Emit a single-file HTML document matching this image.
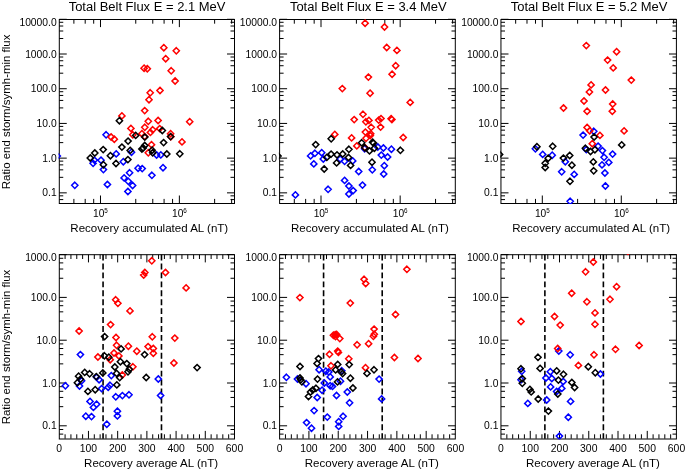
<!DOCTYPE html>
<html><head><meta charset="utf-8"><style>
html,body{margin:0;padding:0;background:#fff;}
body{width:685px;height:471px;overflow:hidden;}
svg{display:block;will-change:transform;}
</style></head><body>
<svg width="685" height="471" viewBox="0 0 685 471">
<rect width="685" height="471" fill="#fff"/>
<g font-family='"Liberation Sans", sans-serif' fill="#000">
<g stroke="#000">
<line x1="59.25" y1="192.85" x2="66.75" y2="192.85" stroke-width="1.0" />
<line x1="234.50" y1="192.85" x2="227.00" y2="192.85" stroke-width="1.0" />
<line x1="59.25" y1="158.14" x2="66.75" y2="158.14" stroke-width="1.0" />
<line x1="234.50" y1="158.14" x2="227.00" y2="158.14" stroke-width="1.0" />
<line x1="59.25" y1="123.43" x2="66.75" y2="123.43" stroke-width="1.0" />
<line x1="234.50" y1="123.43" x2="227.00" y2="123.43" stroke-width="1.0" />
<line x1="59.25" y1="88.72" x2="66.75" y2="88.72" stroke-width="1.0" />
<line x1="234.50" y1="88.72" x2="227.00" y2="88.72" stroke-width="1.0" />
<line x1="59.25" y1="54.01" x2="66.75" y2="54.01" stroke-width="1.0" />
<line x1="234.50" y1="54.01" x2="227.00" y2="54.01" stroke-width="1.0" />
<line x1="59.25" y1="19.30" x2="66.75" y2="19.30" stroke-width="1.0" />
<line x1="234.50" y1="19.30" x2="227.00" y2="19.30" stroke-width="1.0" />
<line x1="59.25" y1="199.58" x2="63.25" y2="199.58" stroke-width="1.0" />
<line x1="234.50" y1="199.58" x2="230.50" y2="199.58" stroke-width="1.0" />
<line x1="59.25" y1="195.84" x2="63.25" y2="195.84" stroke-width="1.0" />
<line x1="234.50" y1="195.84" x2="230.50" y2="195.84" stroke-width="1.0" />
<line x1="59.25" y1="177.33" x2="63.25" y2="177.33" stroke-width="1.0" />
<line x1="234.50" y1="177.33" x2="230.50" y2="177.33" stroke-width="1.0" />
<line x1="59.25" y1="169.85" x2="63.25" y2="169.85" stroke-width="1.0" />
<line x1="234.50" y1="169.85" x2="230.50" y2="169.85" stroke-width="1.0" />
<line x1="59.25" y1="164.87" x2="63.25" y2="164.87" stroke-width="1.0" />
<line x1="234.50" y1="164.87" x2="230.50" y2="164.87" stroke-width="1.0" />
<line x1="59.25" y1="161.13" x2="63.25" y2="161.13" stroke-width="1.0" />
<line x1="234.50" y1="161.13" x2="230.50" y2="161.13" stroke-width="1.0" />
<line x1="59.25" y1="142.62" x2="63.25" y2="142.62" stroke-width="1.0" />
<line x1="234.50" y1="142.62" x2="230.50" y2="142.62" stroke-width="1.0" />
<line x1="59.25" y1="135.14" x2="63.25" y2="135.14" stroke-width="1.0" />
<line x1="234.50" y1="135.14" x2="230.50" y2="135.14" stroke-width="1.0" />
<line x1="59.25" y1="130.16" x2="63.25" y2="130.16" stroke-width="1.0" />
<line x1="234.50" y1="130.16" x2="230.50" y2="130.16" stroke-width="1.0" />
<line x1="59.25" y1="126.42" x2="63.25" y2="126.42" stroke-width="1.0" />
<line x1="234.50" y1="126.42" x2="230.50" y2="126.42" stroke-width="1.0" />
<line x1="59.25" y1="107.91" x2="63.25" y2="107.91" stroke-width="1.0" />
<line x1="234.50" y1="107.91" x2="230.50" y2="107.91" stroke-width="1.0" />
<line x1="59.25" y1="100.43" x2="63.25" y2="100.43" stroke-width="1.0" />
<line x1="234.50" y1="100.43" x2="230.50" y2="100.43" stroke-width="1.0" />
<line x1="59.25" y1="95.45" x2="63.25" y2="95.45" stroke-width="1.0" />
<line x1="234.50" y1="95.45" x2="230.50" y2="95.45" stroke-width="1.0" />
<line x1="59.25" y1="91.71" x2="63.25" y2="91.71" stroke-width="1.0" />
<line x1="234.50" y1="91.71" x2="230.50" y2="91.71" stroke-width="1.0" />
<line x1="59.25" y1="73.20" x2="63.25" y2="73.20" stroke-width="1.0" />
<line x1="234.50" y1="73.20" x2="230.50" y2="73.20" stroke-width="1.0" />
<line x1="59.25" y1="65.72" x2="63.25" y2="65.72" stroke-width="1.0" />
<line x1="234.50" y1="65.72" x2="230.50" y2="65.72" stroke-width="1.0" />
<line x1="59.25" y1="60.74" x2="63.25" y2="60.74" stroke-width="1.0" />
<line x1="234.50" y1="60.74" x2="230.50" y2="60.74" stroke-width="1.0" />
<line x1="59.25" y1="57.00" x2="63.25" y2="57.00" stroke-width="1.0" />
<line x1="234.50" y1="57.00" x2="230.50" y2="57.00" stroke-width="1.0" />
<line x1="59.25" y1="38.49" x2="63.25" y2="38.49" stroke-width="1.0" />
<line x1="234.50" y1="38.49" x2="230.50" y2="38.49" stroke-width="1.0" />
<line x1="59.25" y1="31.01" x2="63.25" y2="31.01" stroke-width="1.0" />
<line x1="234.50" y1="31.01" x2="230.50" y2="31.01" stroke-width="1.0" />
<line x1="59.25" y1="26.03" x2="63.25" y2="26.03" stroke-width="1.0" />
<line x1="234.50" y1="26.03" x2="230.50" y2="26.03" stroke-width="1.0" />
<line x1="59.25" y1="22.29" x2="63.25" y2="22.29" stroke-width="1.0" />
<line x1="234.50" y1="22.29" x2="230.50" y2="22.29" stroke-width="1.0" />
<line x1="100.49" y1="203.30" x2="100.49" y2="195.50" stroke-width="1.0" />
<line x1="100.49" y1="19.30" x2="100.49" y2="27.10" stroke-width="1.0" />
<line x1="179.37" y1="203.30" x2="179.37" y2="195.50" stroke-width="1.0" />
<line x1="179.37" y1="19.30" x2="179.37" y2="27.10" stroke-width="1.0" />
<line x1="73.89" y1="203.30" x2="73.89" y2="198.90" stroke-width="1.0" />
<line x1="73.89" y1="19.30" x2="73.89" y2="23.70" stroke-width="1.0" />
<line x1="85.20" y1="203.30" x2="85.20" y2="198.90" stroke-width="1.0" />
<line x1="85.20" y1="19.30" x2="85.20" y2="23.70" stroke-width="1.0" />
<line x1="93.69" y1="203.30" x2="93.69" y2="198.90" stroke-width="1.0" />
<line x1="93.69" y1="19.30" x2="93.69" y2="23.70" stroke-width="1.0" />
<line x1="135.76" y1="203.30" x2="135.76" y2="198.90" stroke-width="1.0" />
<line x1="135.76" y1="19.30" x2="135.76" y2="23.70" stroke-width="1.0" />
<line x1="152.77" y1="203.30" x2="152.77" y2="198.90" stroke-width="1.0" />
<line x1="152.77" y1="19.30" x2="152.77" y2="23.70" stroke-width="1.0" />
<line x1="164.08" y1="203.30" x2="164.08" y2="198.90" stroke-width="1.0" />
<line x1="164.08" y1="19.30" x2="164.08" y2="23.70" stroke-width="1.0" />
<line x1="172.57" y1="203.30" x2="172.57" y2="198.90" stroke-width="1.0" />
<line x1="172.57" y1="19.30" x2="172.57" y2="23.70" stroke-width="1.0" />
<line x1="214.64" y1="203.30" x2="214.64" y2="198.90" stroke-width="1.0" />
<line x1="214.64" y1="19.30" x2="214.64" y2="23.70" stroke-width="1.0" />
<line x1="231.64" y1="203.30" x2="231.64" y2="198.90" stroke-width="1.0" />
<line x1="231.64" y1="19.30" x2="231.64" y2="23.70" stroke-width="1.0" />
</g>
<text x="56.65" y="25.60" font-size="10.3" text-anchor="end" >10000.0</text>
<text x="56.65" y="57.61" font-size="10.3" text-anchor="end" >1000.0</text>
<text x="56.65" y="92.32" font-size="10.3" text-anchor="end" >100.0</text>
<text x="56.65" y="127.03" font-size="10.3" text-anchor="end" >10.0</text>
<text x="56.65" y="161.74" font-size="10.3" text-anchor="end" >1.0</text>
<text x="56.65" y="196.45" font-size="10.3" text-anchor="end" >0.1</text>
<text x="98.79" y="216.90" font-size="10.2" text-anchor="middle" >10</text>
<text x="106.09" y="212.70" font-size="6.3" text-anchor="middle" >5</text>
<text x="177.67" y="216.90" font-size="10.2" text-anchor="middle" >10</text>
<text x="184.97" y="212.70" font-size="6.3" text-anchor="middle" >6</text>
<text x="147.05" y="10.60" font-size="12.3" text-anchor="middle" textLength="156.8" lengthAdjust="spacingAndGlyphs">Total Belt Flux E = 2.1 MeV</text>
<text x="149.28" y="232.20" font-size="11.3" text-anchor="middle" textLength="157.8" lengthAdjust="spacingAndGlyphs">Recovery accumulated AL (nT)</text>
<g stroke="#000">
<line x1="59.25" y1="425.81" x2="66.75" y2="425.81" stroke-width="1.0" />
<line x1="234.50" y1="425.81" x2="227.00" y2="425.81" stroke-width="1.0" />
<line x1="59.25" y1="383.01" x2="66.75" y2="383.01" stroke-width="1.0" />
<line x1="234.50" y1="383.01" x2="227.00" y2="383.01" stroke-width="1.0" />
<line x1="59.25" y1="340.21" x2="66.75" y2="340.21" stroke-width="1.0" />
<line x1="234.50" y1="340.21" x2="227.00" y2="340.21" stroke-width="1.0" />
<line x1="59.25" y1="297.40" x2="66.75" y2="297.40" stroke-width="1.0" />
<line x1="234.50" y1="297.40" x2="227.00" y2="297.40" stroke-width="1.0" />
<line x1="59.25" y1="254.60" x2="66.75" y2="254.60" stroke-width="1.0" />
<line x1="234.50" y1="254.60" x2="227.00" y2="254.60" stroke-width="1.0" />
<line x1="59.25" y1="434.11" x2="63.25" y2="434.11" stroke-width="1.0" />
<line x1="234.50" y1="434.11" x2="230.50" y2="434.11" stroke-width="1.0" />
<line x1="59.25" y1="429.50" x2="63.25" y2="429.50" stroke-width="1.0" />
<line x1="234.50" y1="429.50" x2="230.50" y2="429.50" stroke-width="1.0" />
<line x1="59.25" y1="406.67" x2="63.25" y2="406.67" stroke-width="1.0" />
<line x1="234.50" y1="406.67" x2="230.50" y2="406.67" stroke-width="1.0" />
<line x1="59.25" y1="397.45" x2="63.25" y2="397.45" stroke-width="1.0" />
<line x1="234.50" y1="397.45" x2="230.50" y2="397.45" stroke-width="1.0" />
<line x1="59.25" y1="391.31" x2="63.25" y2="391.31" stroke-width="1.0" />
<line x1="234.50" y1="391.31" x2="230.50" y2="391.31" stroke-width="1.0" />
<line x1="59.25" y1="386.70" x2="63.25" y2="386.70" stroke-width="1.0" />
<line x1="234.50" y1="386.70" x2="230.50" y2="386.70" stroke-width="1.0" />
<line x1="59.25" y1="363.87" x2="63.25" y2="363.87" stroke-width="1.0" />
<line x1="234.50" y1="363.87" x2="230.50" y2="363.87" stroke-width="1.0" />
<line x1="59.25" y1="354.64" x2="63.25" y2="354.64" stroke-width="1.0" />
<line x1="234.50" y1="354.64" x2="230.50" y2="354.64" stroke-width="1.0" />
<line x1="59.25" y1="348.50" x2="63.25" y2="348.50" stroke-width="1.0" />
<line x1="234.50" y1="348.50" x2="230.50" y2="348.50" stroke-width="1.0" />
<line x1="59.25" y1="343.90" x2="63.25" y2="343.90" stroke-width="1.0" />
<line x1="234.50" y1="343.90" x2="230.50" y2="343.90" stroke-width="1.0" />
<line x1="59.25" y1="321.07" x2="63.25" y2="321.07" stroke-width="1.0" />
<line x1="234.50" y1="321.07" x2="230.50" y2="321.07" stroke-width="1.0" />
<line x1="59.25" y1="311.84" x2="63.25" y2="311.84" stroke-width="1.0" />
<line x1="234.50" y1="311.84" x2="230.50" y2="311.84" stroke-width="1.0" />
<line x1="59.25" y1="305.70" x2="63.25" y2="305.70" stroke-width="1.0" />
<line x1="234.50" y1="305.70" x2="230.50" y2="305.70" stroke-width="1.0" />
<line x1="59.25" y1="301.09" x2="63.25" y2="301.09" stroke-width="1.0" />
<line x1="234.50" y1="301.09" x2="230.50" y2="301.09" stroke-width="1.0" />
<line x1="59.25" y1="278.26" x2="63.25" y2="278.26" stroke-width="1.0" />
<line x1="234.50" y1="278.26" x2="230.50" y2="278.26" stroke-width="1.0" />
<line x1="59.25" y1="269.04" x2="63.25" y2="269.04" stroke-width="1.0" />
<line x1="234.50" y1="269.04" x2="230.50" y2="269.04" stroke-width="1.0" />
<line x1="59.25" y1="262.90" x2="63.25" y2="262.90" stroke-width="1.0" />
<line x1="234.50" y1="262.90" x2="230.50" y2="262.90" stroke-width="1.0" />
<line x1="59.25" y1="258.29" x2="63.25" y2="258.29" stroke-width="1.0" />
<line x1="234.50" y1="258.29" x2="230.50" y2="258.29" stroke-width="1.0" />
<line x1="65.09" y1="438.70" x2="65.09" y2="434.30" stroke-width="1.0" />
<line x1="65.09" y1="254.60" x2="65.09" y2="259.00" stroke-width="1.0" />
<line x1="70.93" y1="438.70" x2="70.93" y2="434.30" stroke-width="1.0" />
<line x1="70.93" y1="254.60" x2="70.93" y2="259.00" stroke-width="1.0" />
<line x1="76.78" y1="438.70" x2="76.78" y2="434.30" stroke-width="1.0" />
<line x1="76.78" y1="254.60" x2="76.78" y2="259.00" stroke-width="1.0" />
<line x1="82.62" y1="438.70" x2="82.62" y2="434.30" stroke-width="1.0" />
<line x1="82.62" y1="254.60" x2="82.62" y2="259.00" stroke-width="1.0" />
<line x1="88.46" y1="438.70" x2="88.46" y2="430.90" stroke-width="1.0" />
<line x1="88.46" y1="254.60" x2="88.46" y2="262.40" stroke-width="1.0" />
<line x1="94.30" y1="438.70" x2="94.30" y2="434.30" stroke-width="1.0" />
<line x1="94.30" y1="254.60" x2="94.30" y2="259.00" stroke-width="1.0" />
<line x1="100.14" y1="438.70" x2="100.14" y2="434.30" stroke-width="1.0" />
<line x1="100.14" y1="254.60" x2="100.14" y2="259.00" stroke-width="1.0" />
<line x1="105.98" y1="438.70" x2="105.98" y2="434.30" stroke-width="1.0" />
<line x1="105.98" y1="254.60" x2="105.98" y2="259.00" stroke-width="1.0" />
<line x1="111.82" y1="438.70" x2="111.82" y2="434.30" stroke-width="1.0" />
<line x1="111.82" y1="254.60" x2="111.82" y2="259.00" stroke-width="1.0" />
<line x1="117.67" y1="438.70" x2="117.67" y2="430.90" stroke-width="1.0" />
<line x1="117.67" y1="254.60" x2="117.67" y2="262.40" stroke-width="1.0" />
<line x1="123.51" y1="438.70" x2="123.51" y2="434.30" stroke-width="1.0" />
<line x1="123.51" y1="254.60" x2="123.51" y2="259.00" stroke-width="1.0" />
<line x1="129.35" y1="438.70" x2="129.35" y2="434.30" stroke-width="1.0" />
<line x1="129.35" y1="254.60" x2="129.35" y2="259.00" stroke-width="1.0" />
<line x1="135.19" y1="438.70" x2="135.19" y2="434.30" stroke-width="1.0" />
<line x1="135.19" y1="254.60" x2="135.19" y2="259.00" stroke-width="1.0" />
<line x1="141.03" y1="438.70" x2="141.03" y2="434.30" stroke-width="1.0" />
<line x1="141.03" y1="254.60" x2="141.03" y2="259.00" stroke-width="1.0" />
<line x1="146.88" y1="438.70" x2="146.88" y2="430.90" stroke-width="1.0" />
<line x1="146.88" y1="254.60" x2="146.88" y2="262.40" stroke-width="1.0" />
<line x1="152.72" y1="438.70" x2="152.72" y2="434.30" stroke-width="1.0" />
<line x1="152.72" y1="254.60" x2="152.72" y2="259.00" stroke-width="1.0" />
<line x1="158.56" y1="438.70" x2="158.56" y2="434.30" stroke-width="1.0" />
<line x1="158.56" y1="254.60" x2="158.56" y2="259.00" stroke-width="1.0" />
<line x1="164.40" y1="438.70" x2="164.40" y2="434.30" stroke-width="1.0" />
<line x1="164.40" y1="254.60" x2="164.40" y2="259.00" stroke-width="1.0" />
<line x1="170.24" y1="438.70" x2="170.24" y2="434.30" stroke-width="1.0" />
<line x1="170.24" y1="254.60" x2="170.24" y2="259.00" stroke-width="1.0" />
<line x1="176.08" y1="438.70" x2="176.08" y2="430.90" stroke-width="1.0" />
<line x1="176.08" y1="254.60" x2="176.08" y2="262.40" stroke-width="1.0" />
<line x1="181.93" y1="438.70" x2="181.93" y2="434.30" stroke-width="1.0" />
<line x1="181.93" y1="254.60" x2="181.93" y2="259.00" stroke-width="1.0" />
<line x1="187.77" y1="438.70" x2="187.77" y2="434.30" stroke-width="1.0" />
<line x1="187.77" y1="254.60" x2="187.77" y2="259.00" stroke-width="1.0" />
<line x1="193.61" y1="438.70" x2="193.61" y2="434.30" stroke-width="1.0" />
<line x1="193.61" y1="254.60" x2="193.61" y2="259.00" stroke-width="1.0" />
<line x1="199.45" y1="438.70" x2="199.45" y2="434.30" stroke-width="1.0" />
<line x1="199.45" y1="254.60" x2="199.45" y2="259.00" stroke-width="1.0" />
<line x1="205.29" y1="438.70" x2="205.29" y2="430.90" stroke-width="1.0" />
<line x1="205.29" y1="254.60" x2="205.29" y2="262.40" stroke-width="1.0" />
<line x1="211.13" y1="438.70" x2="211.13" y2="434.30" stroke-width="1.0" />
<line x1="211.13" y1="254.60" x2="211.13" y2="259.00" stroke-width="1.0" />
<line x1="216.97" y1="438.70" x2="216.97" y2="434.30" stroke-width="1.0" />
<line x1="216.97" y1="254.60" x2="216.97" y2="259.00" stroke-width="1.0" />
<line x1="222.82" y1="438.70" x2="222.82" y2="434.30" stroke-width="1.0" />
<line x1="222.82" y1="254.60" x2="222.82" y2="259.00" stroke-width="1.0" />
<line x1="228.66" y1="438.70" x2="228.66" y2="434.30" stroke-width="1.0" />
<line x1="228.66" y1="254.60" x2="228.66" y2="259.00" stroke-width="1.0" />
<line x1="103.06" y1="254.60" x2="103.06" y2="438.70" stroke-width="1.6" stroke-dasharray="5.9 3.03"/>
<line x1="161.48" y1="254.60" x2="161.48" y2="438.70" stroke-width="1.6" stroke-dasharray="5.9 3.03"/>
</g>
<text x="56.65" y="260.90" font-size="10.3" text-anchor="end" >1000.0</text>
<text x="56.65" y="301.00" font-size="10.3" text-anchor="end" >100.0</text>
<text x="56.65" y="343.81" font-size="10.3" text-anchor="end" >10.0</text>
<text x="56.65" y="386.61" font-size="10.3" text-anchor="end" >1.0</text>
<text x="56.65" y="429.41" font-size="10.3" text-anchor="end" >0.1</text>
<text x="59.25" y="452.00" font-size="10.4" text-anchor="middle" >0</text>
<text x="88.46" y="452.00" font-size="10.4" text-anchor="middle" >100</text>
<text x="117.67" y="452.00" font-size="10.4" text-anchor="middle" >200</text>
<text x="146.88" y="452.00" font-size="10.4" text-anchor="middle" >300</text>
<text x="176.08" y="452.00" font-size="10.4" text-anchor="middle" >400</text>
<text x="205.29" y="452.00" font-size="10.4" text-anchor="middle" >500</text>
<text x="234.50" y="452.00" font-size="10.4" text-anchor="middle" >600</text>
<text x="151.07" y="467.20" font-size="11.3" text-anchor="middle" textLength="134.0" lengthAdjust="spacingAndGlyphs">Recovery average AL (nT)</text>
<rect x="59.30" y="19.50" width="175.20" height="184.00" fill="none" stroke="#000" stroke-width="1.0"/>
<rect x="59.30" y="254.70" width="175.20" height="184.30" fill="none" stroke="#000" stroke-width="1.0"/>
<g stroke="#000">
<line x1="279.60" y1="192.85" x2="287.10" y2="192.85" stroke-width="1.0" />
<line x1="455.50" y1="192.85" x2="448.00" y2="192.85" stroke-width="1.0" />
<line x1="279.60" y1="158.14" x2="287.10" y2="158.14" stroke-width="1.0" />
<line x1="455.50" y1="158.14" x2="448.00" y2="158.14" stroke-width="1.0" />
<line x1="279.60" y1="123.43" x2="287.10" y2="123.43" stroke-width="1.0" />
<line x1="455.50" y1="123.43" x2="448.00" y2="123.43" stroke-width="1.0" />
<line x1="279.60" y1="88.72" x2="287.10" y2="88.72" stroke-width="1.0" />
<line x1="455.50" y1="88.72" x2="448.00" y2="88.72" stroke-width="1.0" />
<line x1="279.60" y1="54.01" x2="287.10" y2="54.01" stroke-width="1.0" />
<line x1="455.50" y1="54.01" x2="448.00" y2="54.01" stroke-width="1.0" />
<line x1="279.60" y1="19.30" x2="287.10" y2="19.30" stroke-width="1.0" />
<line x1="455.50" y1="19.30" x2="448.00" y2="19.30" stroke-width="1.0" />
<line x1="279.60" y1="199.58" x2="283.60" y2="199.58" stroke-width="1.0" />
<line x1="455.50" y1="199.58" x2="451.50" y2="199.58" stroke-width="1.0" />
<line x1="279.60" y1="195.84" x2="283.60" y2="195.84" stroke-width="1.0" />
<line x1="455.50" y1="195.84" x2="451.50" y2="195.84" stroke-width="1.0" />
<line x1="279.60" y1="177.33" x2="283.60" y2="177.33" stroke-width="1.0" />
<line x1="455.50" y1="177.33" x2="451.50" y2="177.33" stroke-width="1.0" />
<line x1="279.60" y1="169.85" x2="283.60" y2="169.85" stroke-width="1.0" />
<line x1="455.50" y1="169.85" x2="451.50" y2="169.85" stroke-width="1.0" />
<line x1="279.60" y1="164.87" x2="283.60" y2="164.87" stroke-width="1.0" />
<line x1="455.50" y1="164.87" x2="451.50" y2="164.87" stroke-width="1.0" />
<line x1="279.60" y1="161.13" x2="283.60" y2="161.13" stroke-width="1.0" />
<line x1="455.50" y1="161.13" x2="451.50" y2="161.13" stroke-width="1.0" />
<line x1="279.60" y1="142.62" x2="283.60" y2="142.62" stroke-width="1.0" />
<line x1="455.50" y1="142.62" x2="451.50" y2="142.62" stroke-width="1.0" />
<line x1="279.60" y1="135.14" x2="283.60" y2="135.14" stroke-width="1.0" />
<line x1="455.50" y1="135.14" x2="451.50" y2="135.14" stroke-width="1.0" />
<line x1="279.60" y1="130.16" x2="283.60" y2="130.16" stroke-width="1.0" />
<line x1="455.50" y1="130.16" x2="451.50" y2="130.16" stroke-width="1.0" />
<line x1="279.60" y1="126.42" x2="283.60" y2="126.42" stroke-width="1.0" />
<line x1="455.50" y1="126.42" x2="451.50" y2="126.42" stroke-width="1.0" />
<line x1="279.60" y1="107.91" x2="283.60" y2="107.91" stroke-width="1.0" />
<line x1="455.50" y1="107.91" x2="451.50" y2="107.91" stroke-width="1.0" />
<line x1="279.60" y1="100.43" x2="283.60" y2="100.43" stroke-width="1.0" />
<line x1="455.50" y1="100.43" x2="451.50" y2="100.43" stroke-width="1.0" />
<line x1="279.60" y1="95.45" x2="283.60" y2="95.45" stroke-width="1.0" />
<line x1="455.50" y1="95.45" x2="451.50" y2="95.45" stroke-width="1.0" />
<line x1="279.60" y1="91.71" x2="283.60" y2="91.71" stroke-width="1.0" />
<line x1="455.50" y1="91.71" x2="451.50" y2="91.71" stroke-width="1.0" />
<line x1="279.60" y1="73.20" x2="283.60" y2="73.20" stroke-width="1.0" />
<line x1="455.50" y1="73.20" x2="451.50" y2="73.20" stroke-width="1.0" />
<line x1="279.60" y1="65.72" x2="283.60" y2="65.72" stroke-width="1.0" />
<line x1="455.50" y1="65.72" x2="451.50" y2="65.72" stroke-width="1.0" />
<line x1="279.60" y1="60.74" x2="283.60" y2="60.74" stroke-width="1.0" />
<line x1="455.50" y1="60.74" x2="451.50" y2="60.74" stroke-width="1.0" />
<line x1="279.60" y1="57.00" x2="283.60" y2="57.00" stroke-width="1.0" />
<line x1="455.50" y1="57.00" x2="451.50" y2="57.00" stroke-width="1.0" />
<line x1="279.60" y1="38.49" x2="283.60" y2="38.49" stroke-width="1.0" />
<line x1="455.50" y1="38.49" x2="451.50" y2="38.49" stroke-width="1.0" />
<line x1="279.60" y1="31.01" x2="283.60" y2="31.01" stroke-width="1.0" />
<line x1="455.50" y1="31.01" x2="451.50" y2="31.01" stroke-width="1.0" />
<line x1="279.60" y1="26.03" x2="283.60" y2="26.03" stroke-width="1.0" />
<line x1="455.50" y1="26.03" x2="451.50" y2="26.03" stroke-width="1.0" />
<line x1="279.60" y1="22.29" x2="283.60" y2="22.29" stroke-width="1.0" />
<line x1="455.50" y1="22.29" x2="451.50" y2="22.29" stroke-width="1.0" />
<line x1="321.00" y1="203.30" x2="321.00" y2="195.50" stroke-width="1.0" />
<line x1="321.00" y1="19.30" x2="321.00" y2="27.10" stroke-width="1.0" />
<line x1="400.16" y1="203.30" x2="400.16" y2="195.50" stroke-width="1.0" />
<line x1="400.16" y1="19.30" x2="400.16" y2="27.10" stroke-width="1.0" />
<line x1="294.30" y1="203.30" x2="294.30" y2="198.90" stroke-width="1.0" />
<line x1="294.30" y1="19.30" x2="294.30" y2="23.70" stroke-width="1.0" />
<line x1="305.65" y1="203.30" x2="305.65" y2="198.90" stroke-width="1.0" />
<line x1="305.65" y1="19.30" x2="305.65" y2="23.70" stroke-width="1.0" />
<line x1="314.17" y1="203.30" x2="314.17" y2="198.90" stroke-width="1.0" />
<line x1="314.17" y1="19.30" x2="314.17" y2="23.70" stroke-width="1.0" />
<line x1="356.40" y1="203.30" x2="356.40" y2="198.90" stroke-width="1.0" />
<line x1="356.40" y1="19.30" x2="356.40" y2="23.70" stroke-width="1.0" />
<line x1="373.46" y1="203.30" x2="373.46" y2="198.90" stroke-width="1.0" />
<line x1="373.46" y1="19.30" x2="373.46" y2="23.70" stroke-width="1.0" />
<line x1="384.82" y1="203.30" x2="384.82" y2="198.90" stroke-width="1.0" />
<line x1="384.82" y1="19.30" x2="384.82" y2="23.70" stroke-width="1.0" />
<line x1="393.34" y1="203.30" x2="393.34" y2="198.90" stroke-width="1.0" />
<line x1="393.34" y1="19.30" x2="393.34" y2="23.70" stroke-width="1.0" />
<line x1="435.56" y1="203.30" x2="435.56" y2="198.90" stroke-width="1.0" />
<line x1="435.56" y1="19.30" x2="435.56" y2="23.70" stroke-width="1.0" />
<line x1="452.63" y1="203.30" x2="452.63" y2="198.90" stroke-width="1.0" />
<line x1="452.63" y1="19.30" x2="452.63" y2="23.70" stroke-width="1.0" />
</g>
<text x="277.00" y="25.60" font-size="10.3" text-anchor="end" >10000.0</text>
<text x="277.00" y="57.61" font-size="10.3" text-anchor="end" >1000.0</text>
<text x="277.00" y="92.32" font-size="10.3" text-anchor="end" >100.0</text>
<text x="277.00" y="127.03" font-size="10.3" text-anchor="end" >10.0</text>
<text x="277.00" y="161.74" font-size="10.3" text-anchor="end" >1.0</text>
<text x="277.00" y="196.45" font-size="10.3" text-anchor="end" >0.1</text>
<text x="319.30" y="216.90" font-size="10.2" text-anchor="middle" >10</text>
<text x="326.60" y="212.70" font-size="6.3" text-anchor="middle" >5</text>
<text x="398.46" y="216.90" font-size="10.2" text-anchor="middle" >10</text>
<text x="405.76" y="212.70" font-size="6.3" text-anchor="middle" >6</text>
<text x="368.30" y="10.60" font-size="12.3" text-anchor="middle" textLength="156.8" lengthAdjust="spacingAndGlyphs">Total Belt Flux E = 3.4 MeV</text>
<text x="369.95" y="232.20" font-size="11.3" text-anchor="middle" textLength="157.8" lengthAdjust="spacingAndGlyphs">Recovery accumulated AL (nT)</text>
<g stroke="#000">
<line x1="279.60" y1="425.81" x2="287.10" y2="425.81" stroke-width="1.0" />
<line x1="455.50" y1="425.81" x2="448.00" y2="425.81" stroke-width="1.0" />
<line x1="279.60" y1="383.01" x2="287.10" y2="383.01" stroke-width="1.0" />
<line x1="455.50" y1="383.01" x2="448.00" y2="383.01" stroke-width="1.0" />
<line x1="279.60" y1="340.21" x2="287.10" y2="340.21" stroke-width="1.0" />
<line x1="455.50" y1="340.21" x2="448.00" y2="340.21" stroke-width="1.0" />
<line x1="279.60" y1="297.40" x2="287.10" y2="297.40" stroke-width="1.0" />
<line x1="455.50" y1="297.40" x2="448.00" y2="297.40" stroke-width="1.0" />
<line x1="279.60" y1="254.60" x2="287.10" y2="254.60" stroke-width="1.0" />
<line x1="455.50" y1="254.60" x2="448.00" y2="254.60" stroke-width="1.0" />
<line x1="279.60" y1="434.11" x2="283.60" y2="434.11" stroke-width="1.0" />
<line x1="455.50" y1="434.11" x2="451.50" y2="434.11" stroke-width="1.0" />
<line x1="279.60" y1="429.50" x2="283.60" y2="429.50" stroke-width="1.0" />
<line x1="455.50" y1="429.50" x2="451.50" y2="429.50" stroke-width="1.0" />
<line x1="279.60" y1="406.67" x2="283.60" y2="406.67" stroke-width="1.0" />
<line x1="455.50" y1="406.67" x2="451.50" y2="406.67" stroke-width="1.0" />
<line x1="279.60" y1="397.45" x2="283.60" y2="397.45" stroke-width="1.0" />
<line x1="455.50" y1="397.45" x2="451.50" y2="397.45" stroke-width="1.0" />
<line x1="279.60" y1="391.31" x2="283.60" y2="391.31" stroke-width="1.0" />
<line x1="455.50" y1="391.31" x2="451.50" y2="391.31" stroke-width="1.0" />
<line x1="279.60" y1="386.70" x2="283.60" y2="386.70" stroke-width="1.0" />
<line x1="455.50" y1="386.70" x2="451.50" y2="386.70" stroke-width="1.0" />
<line x1="279.60" y1="363.87" x2="283.60" y2="363.87" stroke-width="1.0" />
<line x1="455.50" y1="363.87" x2="451.50" y2="363.87" stroke-width="1.0" />
<line x1="279.60" y1="354.64" x2="283.60" y2="354.64" stroke-width="1.0" />
<line x1="455.50" y1="354.64" x2="451.50" y2="354.64" stroke-width="1.0" />
<line x1="279.60" y1="348.50" x2="283.60" y2="348.50" stroke-width="1.0" />
<line x1="455.50" y1="348.50" x2="451.50" y2="348.50" stroke-width="1.0" />
<line x1="279.60" y1="343.90" x2="283.60" y2="343.90" stroke-width="1.0" />
<line x1="455.50" y1="343.90" x2="451.50" y2="343.90" stroke-width="1.0" />
<line x1="279.60" y1="321.07" x2="283.60" y2="321.07" stroke-width="1.0" />
<line x1="455.50" y1="321.07" x2="451.50" y2="321.07" stroke-width="1.0" />
<line x1="279.60" y1="311.84" x2="283.60" y2="311.84" stroke-width="1.0" />
<line x1="455.50" y1="311.84" x2="451.50" y2="311.84" stroke-width="1.0" />
<line x1="279.60" y1="305.70" x2="283.60" y2="305.70" stroke-width="1.0" />
<line x1="455.50" y1="305.70" x2="451.50" y2="305.70" stroke-width="1.0" />
<line x1="279.60" y1="301.09" x2="283.60" y2="301.09" stroke-width="1.0" />
<line x1="455.50" y1="301.09" x2="451.50" y2="301.09" stroke-width="1.0" />
<line x1="279.60" y1="278.26" x2="283.60" y2="278.26" stroke-width="1.0" />
<line x1="455.50" y1="278.26" x2="451.50" y2="278.26" stroke-width="1.0" />
<line x1="279.60" y1="269.04" x2="283.60" y2="269.04" stroke-width="1.0" />
<line x1="455.50" y1="269.04" x2="451.50" y2="269.04" stroke-width="1.0" />
<line x1="279.60" y1="262.90" x2="283.60" y2="262.90" stroke-width="1.0" />
<line x1="455.50" y1="262.90" x2="451.50" y2="262.90" stroke-width="1.0" />
<line x1="279.60" y1="258.29" x2="283.60" y2="258.29" stroke-width="1.0" />
<line x1="455.50" y1="258.29" x2="451.50" y2="258.29" stroke-width="1.0" />
<line x1="285.46" y1="438.70" x2="285.46" y2="434.30" stroke-width="1.0" />
<line x1="285.46" y1="254.60" x2="285.46" y2="259.00" stroke-width="1.0" />
<line x1="291.33" y1="438.70" x2="291.33" y2="434.30" stroke-width="1.0" />
<line x1="291.33" y1="254.60" x2="291.33" y2="259.00" stroke-width="1.0" />
<line x1="297.19" y1="438.70" x2="297.19" y2="434.30" stroke-width="1.0" />
<line x1="297.19" y1="254.60" x2="297.19" y2="259.00" stroke-width="1.0" />
<line x1="303.05" y1="438.70" x2="303.05" y2="434.30" stroke-width="1.0" />
<line x1="303.05" y1="254.60" x2="303.05" y2="259.00" stroke-width="1.0" />
<line x1="308.92" y1="438.70" x2="308.92" y2="430.90" stroke-width="1.0" />
<line x1="308.92" y1="254.60" x2="308.92" y2="262.40" stroke-width="1.0" />
<line x1="314.78" y1="438.70" x2="314.78" y2="434.30" stroke-width="1.0" />
<line x1="314.78" y1="254.60" x2="314.78" y2="259.00" stroke-width="1.0" />
<line x1="320.64" y1="438.70" x2="320.64" y2="434.30" stroke-width="1.0" />
<line x1="320.64" y1="254.60" x2="320.64" y2="259.00" stroke-width="1.0" />
<line x1="326.51" y1="438.70" x2="326.51" y2="434.30" stroke-width="1.0" />
<line x1="326.51" y1="254.60" x2="326.51" y2="259.00" stroke-width="1.0" />
<line x1="332.37" y1="438.70" x2="332.37" y2="434.30" stroke-width="1.0" />
<line x1="332.37" y1="254.60" x2="332.37" y2="259.00" stroke-width="1.0" />
<line x1="338.23" y1="438.70" x2="338.23" y2="430.90" stroke-width="1.0" />
<line x1="338.23" y1="254.60" x2="338.23" y2="262.40" stroke-width="1.0" />
<line x1="344.10" y1="438.70" x2="344.10" y2="434.30" stroke-width="1.0" />
<line x1="344.10" y1="254.60" x2="344.10" y2="259.00" stroke-width="1.0" />
<line x1="349.96" y1="438.70" x2="349.96" y2="434.30" stroke-width="1.0" />
<line x1="349.96" y1="254.60" x2="349.96" y2="259.00" stroke-width="1.0" />
<line x1="355.82" y1="438.70" x2="355.82" y2="434.30" stroke-width="1.0" />
<line x1="355.82" y1="254.60" x2="355.82" y2="259.00" stroke-width="1.0" />
<line x1="361.69" y1="438.70" x2="361.69" y2="434.30" stroke-width="1.0" />
<line x1="361.69" y1="254.60" x2="361.69" y2="259.00" stroke-width="1.0" />
<line x1="367.55" y1="438.70" x2="367.55" y2="430.90" stroke-width="1.0" />
<line x1="367.55" y1="254.60" x2="367.55" y2="262.40" stroke-width="1.0" />
<line x1="373.41" y1="438.70" x2="373.41" y2="434.30" stroke-width="1.0" />
<line x1="373.41" y1="254.60" x2="373.41" y2="259.00" stroke-width="1.0" />
<line x1="379.28" y1="438.70" x2="379.28" y2="434.30" stroke-width="1.0" />
<line x1="379.28" y1="254.60" x2="379.28" y2="259.00" stroke-width="1.0" />
<line x1="385.14" y1="438.70" x2="385.14" y2="434.30" stroke-width="1.0" />
<line x1="385.14" y1="254.60" x2="385.14" y2="259.00" stroke-width="1.0" />
<line x1="391.00" y1="438.70" x2="391.00" y2="434.30" stroke-width="1.0" />
<line x1="391.00" y1="254.60" x2="391.00" y2="259.00" stroke-width="1.0" />
<line x1="396.87" y1="438.70" x2="396.87" y2="430.90" stroke-width="1.0" />
<line x1="396.87" y1="254.60" x2="396.87" y2="262.40" stroke-width="1.0" />
<line x1="402.73" y1="438.70" x2="402.73" y2="434.30" stroke-width="1.0" />
<line x1="402.73" y1="254.60" x2="402.73" y2="259.00" stroke-width="1.0" />
<line x1="408.59" y1="438.70" x2="408.59" y2="434.30" stroke-width="1.0" />
<line x1="408.59" y1="254.60" x2="408.59" y2="259.00" stroke-width="1.0" />
<line x1="414.46" y1="438.70" x2="414.46" y2="434.30" stroke-width="1.0" />
<line x1="414.46" y1="254.60" x2="414.46" y2="259.00" stroke-width="1.0" />
<line x1="420.32" y1="438.70" x2="420.32" y2="434.30" stroke-width="1.0" />
<line x1="420.32" y1="254.60" x2="420.32" y2="259.00" stroke-width="1.0" />
<line x1="426.18" y1="438.70" x2="426.18" y2="430.90" stroke-width="1.0" />
<line x1="426.18" y1="254.60" x2="426.18" y2="262.40" stroke-width="1.0" />
<line x1="432.05" y1="438.70" x2="432.05" y2="434.30" stroke-width="1.0" />
<line x1="432.05" y1="254.60" x2="432.05" y2="259.00" stroke-width="1.0" />
<line x1="437.91" y1="438.70" x2="437.91" y2="434.30" stroke-width="1.0" />
<line x1="437.91" y1="254.60" x2="437.91" y2="259.00" stroke-width="1.0" />
<line x1="443.77" y1="438.70" x2="443.77" y2="434.30" stroke-width="1.0" />
<line x1="443.77" y1="254.60" x2="443.77" y2="259.00" stroke-width="1.0" />
<line x1="449.64" y1="438.70" x2="449.64" y2="434.30" stroke-width="1.0" />
<line x1="449.64" y1="254.60" x2="449.64" y2="259.00" stroke-width="1.0" />
<line x1="323.58" y1="254.60" x2="323.58" y2="438.70" stroke-width="1.6" stroke-dasharray="5.9 3.03"/>
<line x1="382.21" y1="254.60" x2="382.21" y2="438.70" stroke-width="1.6" stroke-dasharray="5.9 3.03"/>
</g>
<text x="277.00" y="260.90" font-size="10.3" text-anchor="end" >1000.0</text>
<text x="277.00" y="301.00" font-size="10.3" text-anchor="end" >100.0</text>
<text x="277.00" y="343.81" font-size="10.3" text-anchor="end" >10.0</text>
<text x="277.00" y="386.61" font-size="10.3" text-anchor="end" >1.0</text>
<text x="277.00" y="429.41" font-size="10.3" text-anchor="end" >0.1</text>
<text x="279.60" y="452.00" font-size="10.4" text-anchor="middle" >0</text>
<text x="308.92" y="452.00" font-size="10.4" text-anchor="middle" >100</text>
<text x="338.23" y="452.00" font-size="10.4" text-anchor="middle" >200</text>
<text x="367.55" y="452.00" font-size="10.4" text-anchor="middle" >300</text>
<text x="396.87" y="452.00" font-size="10.4" text-anchor="middle" >400</text>
<text x="426.18" y="452.00" font-size="10.4" text-anchor="middle" >500</text>
<text x="455.50" y="452.00" font-size="10.4" text-anchor="middle" >600</text>
<text x="371.75" y="467.20" font-size="11.3" text-anchor="middle" textLength="134.0" lengthAdjust="spacingAndGlyphs">Recovery average AL (nT)</text>
<rect x="279.60" y="19.50" width="175.70" height="184.00" fill="none" stroke="#000" stroke-width="1.0"/>
<rect x="279.60" y="254.70" width="175.70" height="184.30" fill="none" stroke="#000" stroke-width="1.0"/>
<g stroke="#000">
<line x1="501.00" y1="192.85" x2="508.50" y2="192.85" stroke-width="1.0" />
<line x1="676.50" y1="192.85" x2="669.00" y2="192.85" stroke-width="1.0" />
<line x1="501.00" y1="158.14" x2="508.50" y2="158.14" stroke-width="1.0" />
<line x1="676.50" y1="158.14" x2="669.00" y2="158.14" stroke-width="1.0" />
<line x1="501.00" y1="123.43" x2="508.50" y2="123.43" stroke-width="1.0" />
<line x1="676.50" y1="123.43" x2="669.00" y2="123.43" stroke-width="1.0" />
<line x1="501.00" y1="88.72" x2="508.50" y2="88.72" stroke-width="1.0" />
<line x1="676.50" y1="88.72" x2="669.00" y2="88.72" stroke-width="1.0" />
<line x1="501.00" y1="54.01" x2="508.50" y2="54.01" stroke-width="1.0" />
<line x1="676.50" y1="54.01" x2="669.00" y2="54.01" stroke-width="1.0" />
<line x1="501.00" y1="19.30" x2="508.50" y2="19.30" stroke-width="1.0" />
<line x1="676.50" y1="19.30" x2="669.00" y2="19.30" stroke-width="1.0" />
<line x1="501.00" y1="199.58" x2="505.00" y2="199.58" stroke-width="1.0" />
<line x1="676.50" y1="199.58" x2="672.50" y2="199.58" stroke-width="1.0" />
<line x1="501.00" y1="195.84" x2="505.00" y2="195.84" stroke-width="1.0" />
<line x1="676.50" y1="195.84" x2="672.50" y2="195.84" stroke-width="1.0" />
<line x1="501.00" y1="177.33" x2="505.00" y2="177.33" stroke-width="1.0" />
<line x1="676.50" y1="177.33" x2="672.50" y2="177.33" stroke-width="1.0" />
<line x1="501.00" y1="169.85" x2="505.00" y2="169.85" stroke-width="1.0" />
<line x1="676.50" y1="169.85" x2="672.50" y2="169.85" stroke-width="1.0" />
<line x1="501.00" y1="164.87" x2="505.00" y2="164.87" stroke-width="1.0" />
<line x1="676.50" y1="164.87" x2="672.50" y2="164.87" stroke-width="1.0" />
<line x1="501.00" y1="161.13" x2="505.00" y2="161.13" stroke-width="1.0" />
<line x1="676.50" y1="161.13" x2="672.50" y2="161.13" stroke-width="1.0" />
<line x1="501.00" y1="142.62" x2="505.00" y2="142.62" stroke-width="1.0" />
<line x1="676.50" y1="142.62" x2="672.50" y2="142.62" stroke-width="1.0" />
<line x1="501.00" y1="135.14" x2="505.00" y2="135.14" stroke-width="1.0" />
<line x1="676.50" y1="135.14" x2="672.50" y2="135.14" stroke-width="1.0" />
<line x1="501.00" y1="130.16" x2="505.00" y2="130.16" stroke-width="1.0" />
<line x1="676.50" y1="130.16" x2="672.50" y2="130.16" stroke-width="1.0" />
<line x1="501.00" y1="126.42" x2="505.00" y2="126.42" stroke-width="1.0" />
<line x1="676.50" y1="126.42" x2="672.50" y2="126.42" stroke-width="1.0" />
<line x1="501.00" y1="107.91" x2="505.00" y2="107.91" stroke-width="1.0" />
<line x1="676.50" y1="107.91" x2="672.50" y2="107.91" stroke-width="1.0" />
<line x1="501.00" y1="100.43" x2="505.00" y2="100.43" stroke-width="1.0" />
<line x1="676.50" y1="100.43" x2="672.50" y2="100.43" stroke-width="1.0" />
<line x1="501.00" y1="95.45" x2="505.00" y2="95.45" stroke-width="1.0" />
<line x1="676.50" y1="95.45" x2="672.50" y2="95.45" stroke-width="1.0" />
<line x1="501.00" y1="91.71" x2="505.00" y2="91.71" stroke-width="1.0" />
<line x1="676.50" y1="91.71" x2="672.50" y2="91.71" stroke-width="1.0" />
<line x1="501.00" y1="73.20" x2="505.00" y2="73.20" stroke-width="1.0" />
<line x1="676.50" y1="73.20" x2="672.50" y2="73.20" stroke-width="1.0" />
<line x1="501.00" y1="65.72" x2="505.00" y2="65.72" stroke-width="1.0" />
<line x1="676.50" y1="65.72" x2="672.50" y2="65.72" stroke-width="1.0" />
<line x1="501.00" y1="60.74" x2="505.00" y2="60.74" stroke-width="1.0" />
<line x1="676.50" y1="60.74" x2="672.50" y2="60.74" stroke-width="1.0" />
<line x1="501.00" y1="57.00" x2="505.00" y2="57.00" stroke-width="1.0" />
<line x1="676.50" y1="57.00" x2="672.50" y2="57.00" stroke-width="1.0" />
<line x1="501.00" y1="38.49" x2="505.00" y2="38.49" stroke-width="1.0" />
<line x1="676.50" y1="38.49" x2="672.50" y2="38.49" stroke-width="1.0" />
<line x1="501.00" y1="31.01" x2="505.00" y2="31.01" stroke-width="1.0" />
<line x1="676.50" y1="31.01" x2="672.50" y2="31.01" stroke-width="1.0" />
<line x1="501.00" y1="26.03" x2="505.00" y2="26.03" stroke-width="1.0" />
<line x1="676.50" y1="26.03" x2="672.50" y2="26.03" stroke-width="1.0" />
<line x1="501.00" y1="22.29" x2="505.00" y2="22.29" stroke-width="1.0" />
<line x1="676.50" y1="22.29" x2="672.50" y2="22.29" stroke-width="1.0" />
<line x1="542.30" y1="203.30" x2="542.30" y2="195.50" stroke-width="1.0" />
<line x1="542.30" y1="19.30" x2="542.30" y2="27.10" stroke-width="1.0" />
<line x1="621.29" y1="203.30" x2="621.29" y2="195.50" stroke-width="1.0" />
<line x1="621.29" y1="19.30" x2="621.29" y2="27.10" stroke-width="1.0" />
<line x1="515.66" y1="203.30" x2="515.66" y2="198.90" stroke-width="1.0" />
<line x1="515.66" y1="19.30" x2="515.66" y2="23.70" stroke-width="1.0" />
<line x1="526.99" y1="203.30" x2="526.99" y2="198.90" stroke-width="1.0" />
<line x1="526.99" y1="19.30" x2="526.99" y2="23.70" stroke-width="1.0" />
<line x1="535.49" y1="203.30" x2="535.49" y2="198.90" stroke-width="1.0" />
<line x1="535.49" y1="19.30" x2="535.49" y2="23.70" stroke-width="1.0" />
<line x1="577.62" y1="203.30" x2="577.62" y2="198.90" stroke-width="1.0" />
<line x1="577.62" y1="19.30" x2="577.62" y2="23.70" stroke-width="1.0" />
<line x1="594.65" y1="203.30" x2="594.65" y2="198.90" stroke-width="1.0" />
<line x1="594.65" y1="19.30" x2="594.65" y2="23.70" stroke-width="1.0" />
<line x1="605.98" y1="203.30" x2="605.98" y2="198.90" stroke-width="1.0" />
<line x1="605.98" y1="19.30" x2="605.98" y2="23.70" stroke-width="1.0" />
<line x1="614.48" y1="203.30" x2="614.48" y2="198.90" stroke-width="1.0" />
<line x1="614.48" y1="19.30" x2="614.48" y2="23.70" stroke-width="1.0" />
<line x1="656.61" y1="203.30" x2="656.61" y2="198.90" stroke-width="1.0" />
<line x1="656.61" y1="19.30" x2="656.61" y2="23.70" stroke-width="1.0" />
<line x1="673.64" y1="203.30" x2="673.64" y2="198.90" stroke-width="1.0" />
<line x1="673.64" y1="19.30" x2="673.64" y2="23.70" stroke-width="1.0" />
</g>
<text x="498.40" y="25.60" font-size="10.3" text-anchor="end" >10000.0</text>
<text x="498.40" y="57.61" font-size="10.3" text-anchor="end" >1000.0</text>
<text x="498.40" y="92.32" font-size="10.3" text-anchor="end" >100.0</text>
<text x="498.40" y="127.03" font-size="10.3" text-anchor="end" >10.0</text>
<text x="498.40" y="161.74" font-size="10.3" text-anchor="end" >1.0</text>
<text x="498.40" y="196.45" font-size="10.3" text-anchor="end" >0.1</text>
<text x="540.60" y="216.90" font-size="10.2" text-anchor="middle" >10</text>
<text x="547.90" y="212.70" font-size="6.3" text-anchor="middle" >5</text>
<text x="619.59" y="216.90" font-size="10.2" text-anchor="middle" >10</text>
<text x="626.89" y="212.70" font-size="6.3" text-anchor="middle" >6</text>
<text x="589.10" y="10.60" font-size="12.3" text-anchor="middle" textLength="156.8" lengthAdjust="spacingAndGlyphs">Total Belt Flux E = 5.2 MeV</text>
<text x="591.15" y="232.20" font-size="11.3" text-anchor="middle" textLength="157.8" lengthAdjust="spacingAndGlyphs">Recovery accumulated AL (nT)</text>
<g stroke="#000">
<line x1="501.00" y1="425.81" x2="508.50" y2="425.81" stroke-width="1.0" />
<line x1="676.50" y1="425.81" x2="669.00" y2="425.81" stroke-width="1.0" />
<line x1="501.00" y1="383.01" x2="508.50" y2="383.01" stroke-width="1.0" />
<line x1="676.50" y1="383.01" x2="669.00" y2="383.01" stroke-width="1.0" />
<line x1="501.00" y1="340.21" x2="508.50" y2="340.21" stroke-width="1.0" />
<line x1="676.50" y1="340.21" x2="669.00" y2="340.21" stroke-width="1.0" />
<line x1="501.00" y1="297.40" x2="508.50" y2="297.40" stroke-width="1.0" />
<line x1="676.50" y1="297.40" x2="669.00" y2="297.40" stroke-width="1.0" />
<line x1="501.00" y1="254.60" x2="508.50" y2="254.60" stroke-width="1.0" />
<line x1="676.50" y1="254.60" x2="669.00" y2="254.60" stroke-width="1.0" />
<line x1="501.00" y1="434.11" x2="505.00" y2="434.11" stroke-width="1.0" />
<line x1="676.50" y1="434.11" x2="672.50" y2="434.11" stroke-width="1.0" />
<line x1="501.00" y1="429.50" x2="505.00" y2="429.50" stroke-width="1.0" />
<line x1="676.50" y1="429.50" x2="672.50" y2="429.50" stroke-width="1.0" />
<line x1="501.00" y1="406.67" x2="505.00" y2="406.67" stroke-width="1.0" />
<line x1="676.50" y1="406.67" x2="672.50" y2="406.67" stroke-width="1.0" />
<line x1="501.00" y1="397.45" x2="505.00" y2="397.45" stroke-width="1.0" />
<line x1="676.50" y1="397.45" x2="672.50" y2="397.45" stroke-width="1.0" />
<line x1="501.00" y1="391.31" x2="505.00" y2="391.31" stroke-width="1.0" />
<line x1="676.50" y1="391.31" x2="672.50" y2="391.31" stroke-width="1.0" />
<line x1="501.00" y1="386.70" x2="505.00" y2="386.70" stroke-width="1.0" />
<line x1="676.50" y1="386.70" x2="672.50" y2="386.70" stroke-width="1.0" />
<line x1="501.00" y1="363.87" x2="505.00" y2="363.87" stroke-width="1.0" />
<line x1="676.50" y1="363.87" x2="672.50" y2="363.87" stroke-width="1.0" />
<line x1="501.00" y1="354.64" x2="505.00" y2="354.64" stroke-width="1.0" />
<line x1="676.50" y1="354.64" x2="672.50" y2="354.64" stroke-width="1.0" />
<line x1="501.00" y1="348.50" x2="505.00" y2="348.50" stroke-width="1.0" />
<line x1="676.50" y1="348.50" x2="672.50" y2="348.50" stroke-width="1.0" />
<line x1="501.00" y1="343.90" x2="505.00" y2="343.90" stroke-width="1.0" />
<line x1="676.50" y1="343.90" x2="672.50" y2="343.90" stroke-width="1.0" />
<line x1="501.00" y1="321.07" x2="505.00" y2="321.07" stroke-width="1.0" />
<line x1="676.50" y1="321.07" x2="672.50" y2="321.07" stroke-width="1.0" />
<line x1="501.00" y1="311.84" x2="505.00" y2="311.84" stroke-width="1.0" />
<line x1="676.50" y1="311.84" x2="672.50" y2="311.84" stroke-width="1.0" />
<line x1="501.00" y1="305.70" x2="505.00" y2="305.70" stroke-width="1.0" />
<line x1="676.50" y1="305.70" x2="672.50" y2="305.70" stroke-width="1.0" />
<line x1="501.00" y1="301.09" x2="505.00" y2="301.09" stroke-width="1.0" />
<line x1="676.50" y1="301.09" x2="672.50" y2="301.09" stroke-width="1.0" />
<line x1="501.00" y1="278.26" x2="505.00" y2="278.26" stroke-width="1.0" />
<line x1="676.50" y1="278.26" x2="672.50" y2="278.26" stroke-width="1.0" />
<line x1="501.00" y1="269.04" x2="505.00" y2="269.04" stroke-width="1.0" />
<line x1="676.50" y1="269.04" x2="672.50" y2="269.04" stroke-width="1.0" />
<line x1="501.00" y1="262.90" x2="505.00" y2="262.90" stroke-width="1.0" />
<line x1="676.50" y1="262.90" x2="672.50" y2="262.90" stroke-width="1.0" />
<line x1="501.00" y1="258.29" x2="505.00" y2="258.29" stroke-width="1.0" />
<line x1="676.50" y1="258.29" x2="672.50" y2="258.29" stroke-width="1.0" />
<line x1="506.85" y1="438.70" x2="506.85" y2="434.30" stroke-width="1.0" />
<line x1="506.85" y1="254.60" x2="506.85" y2="259.00" stroke-width="1.0" />
<line x1="512.70" y1="438.70" x2="512.70" y2="434.30" stroke-width="1.0" />
<line x1="512.70" y1="254.60" x2="512.70" y2="259.00" stroke-width="1.0" />
<line x1="518.55" y1="438.70" x2="518.55" y2="434.30" stroke-width="1.0" />
<line x1="518.55" y1="254.60" x2="518.55" y2="259.00" stroke-width="1.0" />
<line x1="524.40" y1="438.70" x2="524.40" y2="434.30" stroke-width="1.0" />
<line x1="524.40" y1="254.60" x2="524.40" y2="259.00" stroke-width="1.0" />
<line x1="530.25" y1="438.70" x2="530.25" y2="430.90" stroke-width="1.0" />
<line x1="530.25" y1="254.60" x2="530.25" y2="262.40" stroke-width="1.0" />
<line x1="536.10" y1="438.70" x2="536.10" y2="434.30" stroke-width="1.0" />
<line x1="536.10" y1="254.60" x2="536.10" y2="259.00" stroke-width="1.0" />
<line x1="541.95" y1="438.70" x2="541.95" y2="434.30" stroke-width="1.0" />
<line x1="541.95" y1="254.60" x2="541.95" y2="259.00" stroke-width="1.0" />
<line x1="547.80" y1="438.70" x2="547.80" y2="434.30" stroke-width="1.0" />
<line x1="547.80" y1="254.60" x2="547.80" y2="259.00" stroke-width="1.0" />
<line x1="553.65" y1="438.70" x2="553.65" y2="434.30" stroke-width="1.0" />
<line x1="553.65" y1="254.60" x2="553.65" y2="259.00" stroke-width="1.0" />
<line x1="559.50" y1="438.70" x2="559.50" y2="430.90" stroke-width="1.0" />
<line x1="559.50" y1="254.60" x2="559.50" y2="262.40" stroke-width="1.0" />
<line x1="565.35" y1="438.70" x2="565.35" y2="434.30" stroke-width="1.0" />
<line x1="565.35" y1="254.60" x2="565.35" y2="259.00" stroke-width="1.0" />
<line x1="571.20" y1="438.70" x2="571.20" y2="434.30" stroke-width="1.0" />
<line x1="571.20" y1="254.60" x2="571.20" y2="259.00" stroke-width="1.0" />
<line x1="577.05" y1="438.70" x2="577.05" y2="434.30" stroke-width="1.0" />
<line x1="577.05" y1="254.60" x2="577.05" y2="259.00" stroke-width="1.0" />
<line x1="582.90" y1="438.70" x2="582.90" y2="434.30" stroke-width="1.0" />
<line x1="582.90" y1="254.60" x2="582.90" y2="259.00" stroke-width="1.0" />
<line x1="588.75" y1="438.70" x2="588.75" y2="430.90" stroke-width="1.0" />
<line x1="588.75" y1="254.60" x2="588.75" y2="262.40" stroke-width="1.0" />
<line x1="594.60" y1="438.70" x2="594.60" y2="434.30" stroke-width="1.0" />
<line x1="594.60" y1="254.60" x2="594.60" y2="259.00" stroke-width="1.0" />
<line x1="600.45" y1="438.70" x2="600.45" y2="434.30" stroke-width="1.0" />
<line x1="600.45" y1="254.60" x2="600.45" y2="259.00" stroke-width="1.0" />
<line x1="606.30" y1="438.70" x2="606.30" y2="434.30" stroke-width="1.0" />
<line x1="606.30" y1="254.60" x2="606.30" y2="259.00" stroke-width="1.0" />
<line x1="612.15" y1="438.70" x2="612.15" y2="434.30" stroke-width="1.0" />
<line x1="612.15" y1="254.60" x2="612.15" y2="259.00" stroke-width="1.0" />
<line x1="618.00" y1="438.70" x2="618.00" y2="430.90" stroke-width="1.0" />
<line x1="618.00" y1="254.60" x2="618.00" y2="262.40" stroke-width="1.0" />
<line x1="623.85" y1="438.70" x2="623.85" y2="434.30" stroke-width="1.0" />
<line x1="623.85" y1="254.60" x2="623.85" y2="259.00" stroke-width="1.0" />
<line x1="629.70" y1="438.70" x2="629.70" y2="434.30" stroke-width="1.0" />
<line x1="629.70" y1="254.60" x2="629.70" y2="259.00" stroke-width="1.0" />
<line x1="635.55" y1="438.70" x2="635.55" y2="434.30" stroke-width="1.0" />
<line x1="635.55" y1="254.60" x2="635.55" y2="259.00" stroke-width="1.0" />
<line x1="641.40" y1="438.70" x2="641.40" y2="434.30" stroke-width="1.0" />
<line x1="641.40" y1="254.60" x2="641.40" y2="259.00" stroke-width="1.0" />
<line x1="647.25" y1="438.70" x2="647.25" y2="430.90" stroke-width="1.0" />
<line x1="647.25" y1="254.60" x2="647.25" y2="262.40" stroke-width="1.0" />
<line x1="653.10" y1="438.70" x2="653.10" y2="434.30" stroke-width="1.0" />
<line x1="653.10" y1="254.60" x2="653.10" y2="259.00" stroke-width="1.0" />
<line x1="658.95" y1="438.70" x2="658.95" y2="434.30" stroke-width="1.0" />
<line x1="658.95" y1="254.60" x2="658.95" y2="259.00" stroke-width="1.0" />
<line x1="664.80" y1="438.70" x2="664.80" y2="434.30" stroke-width="1.0" />
<line x1="664.80" y1="254.60" x2="664.80" y2="259.00" stroke-width="1.0" />
<line x1="670.65" y1="438.70" x2="670.65" y2="434.30" stroke-width="1.0" />
<line x1="670.65" y1="254.60" x2="670.65" y2="259.00" stroke-width="1.0" />
<line x1="544.88" y1="254.60" x2="544.88" y2="438.70" stroke-width="1.6" stroke-dasharray="5.9 3.03"/>
<line x1="603.38" y1="254.60" x2="603.38" y2="438.70" stroke-width="1.6" stroke-dasharray="5.9 3.03"/>
</g>
<text x="498.40" y="260.90" font-size="10.3" text-anchor="end" >1000.0</text>
<text x="498.40" y="301.00" font-size="10.3" text-anchor="end" >100.0</text>
<text x="498.40" y="343.81" font-size="10.3" text-anchor="end" >10.0</text>
<text x="498.40" y="386.61" font-size="10.3" text-anchor="end" >1.0</text>
<text x="498.40" y="429.41" font-size="10.3" text-anchor="end" >0.1</text>
<text x="501.00" y="452.00" font-size="10.4" text-anchor="middle" >0</text>
<text x="530.25" y="452.00" font-size="10.4" text-anchor="middle" >100</text>
<text x="559.50" y="452.00" font-size="10.4" text-anchor="middle" >200</text>
<text x="588.75" y="452.00" font-size="10.4" text-anchor="middle" >300</text>
<text x="618.00" y="452.00" font-size="10.4" text-anchor="middle" >400</text>
<text x="647.25" y="452.00" font-size="10.4" text-anchor="middle" >500</text>
<text x="676.50" y="452.00" font-size="10.4" text-anchor="middle" >600</text>
<text x="592.95" y="467.20" font-size="11.3" text-anchor="middle" textLength="134.0" lengthAdjust="spacingAndGlyphs">Recovery average AL (nT)</text>
<rect x="500.95" y="19.50" width="175.45" height="184.00" fill="none" stroke="#000" stroke-width="1.0"/>
<rect x="500.95" y="254.70" width="175.45" height="184.30" fill="none" stroke="#000" stroke-width="1.0"/>
<text x="0" y="0" font-size="11.3" text-anchor="middle" textLength="154.6" lengthAdjust="spacingAndGlyphs" transform="translate(9.7 111.9) rotate(-90)">Ratio end storm/symh-min flux</text>
<text x="0" y="0" font-size="11.3" text-anchor="middle" textLength="154.6" lengthAdjust="spacingAndGlyphs" transform="translate(9.7 347.0) rotate(-90)">Ratio end storm/symh-min flux</text>
</g>
<defs><clipPath id="c0"><rect x="58.55" y="18.60" width="176.65" height="185.40"/></clipPath><clipPath id="c1"><rect x="278.90" y="18.60" width="177.30" height="185.40"/></clipPath><clipPath id="c2"><rect x="500.30" y="18.60" width="176.90" height="185.40"/></clipPath><clipPath id="c3"><rect x="58.55" y="253.90" width="176.65" height="185.50"/></clipPath><clipPath id="c4"><rect x="278.90" y="253.90" width="177.30" height="185.50"/></clipPath><clipPath id="c5"><rect x="500.30" y="253.90" width="176.90" height="185.50"/></clipPath></defs>
<g clip-path="url(#c0)" fill="none" stroke-width="1.5">
<path stroke="#0000ff" d="M57.30 152.88l3.12 3.12l-3.12 3.12l-3.12 -3.12zM74.80 182.18l3.12 3.12l-3.12 3.12l-3.12 -3.12zM107.40 181.38l3.12 3.12l-3.12 3.12l-3.12 -3.12zM116.20 150.78l3.12 3.12l-3.12 3.12l-3.12 -3.12zM101.00 157.08l3.12 3.12l-3.12 3.12l-3.12 -3.12zM103.40 166.48l3.12 3.12l-3.12 3.12l-3.12 -3.12zM93.10 160.18l3.12 3.12l-3.12 3.12l-3.12 -3.12zM94.30 156.98l3.12 3.12l-3.12 3.12l-3.12 -3.12zM106.10 131.68l3.12 3.12l-3.12 3.12l-3.12 -3.12zM123.30 158.58l3.12 3.12l-3.12 3.12l-3.12 -3.12zM131.50 149.08l3.12 3.12l-3.12 3.12l-3.12 -3.12zM129.60 169.68l3.12 3.12l-3.12 3.12l-3.12 -3.12zM124.10 174.78l3.12 3.12l-3.12 3.12l-3.12 -3.12zM128.30 178.18l3.12 3.12l-3.12 3.12l-3.12 -3.12zM132.60 182.38l3.12 3.12l-3.12 3.12l-3.12 -3.12zM127.90 188.38l3.12 3.12l-3.12 3.12l-3.12 -3.12zM138.10 165.08l3.12 3.12l-3.12 3.12l-3.12 -3.12zM142.20 165.48l3.12 3.12l-3.12 3.12l-3.12 -3.12zM151.90 172.18l3.12 3.12l-3.12 3.12l-3.12 -3.12zM163.00 164.58l3.12 3.12l-3.12 3.12l-3.12 -3.12zM156.60 151.88l3.12 3.12l-3.12 3.12l-3.12 -3.12zM160.80 151.78l3.12 3.12l-3.12 3.12l-3.12 -3.12z"/>
<path stroke="#ff0000" d="M163.80 44.58l3.12 3.12l-3.12 3.12l-3.12 -3.12zM176.30 47.68l3.12 3.12l-3.12 3.12l-3.12 -3.12zM165.70 55.58l3.12 3.12l-3.12 3.12l-3.12 -3.12zM144.10 65.08l3.12 3.12l-3.12 3.12l-3.12 -3.12zM147.30 65.58l3.12 3.12l-3.12 3.12l-3.12 -3.12zM171.20 67.68l3.12 3.12l-3.12 3.12l-3.12 -3.12zM175.10 77.88l3.12 3.12l-3.12 3.12l-3.12 -3.12zM160.00 87.38l3.12 3.12l-3.12 3.12l-3.12 -3.12zM150.20 89.68l3.12 3.12l-3.12 3.12l-3.12 -3.12zM149.00 96.58l3.12 3.12l-3.12 3.12l-3.12 -3.12zM144.70 107.48l3.12 3.12l-3.12 3.12l-3.12 -3.12zM121.90 112.78l3.12 3.12l-3.12 3.12l-3.12 -3.12zM130.90 125.28l3.12 3.12l-3.12 3.12l-3.12 -3.12zM111.10 133.88l3.12 3.12l-3.12 3.12l-3.12 -3.12zM114.30 136.08l3.12 3.12l-3.12 3.12l-3.12 -3.12zM132.80 131.68l3.12 3.12l-3.12 3.12l-3.12 -3.12zM148.30 118.18l3.12 3.12l-3.12 3.12l-3.12 -3.12zM158.10 117.38l3.12 3.12l-3.12 3.12l-3.12 -3.12zM189.70 118.58l3.12 3.12l-3.12 3.12l-3.12 -3.12zM144.80 124.18l3.12 3.12l-3.12 3.12l-3.12 -3.12zM152.70 126.68l3.12 3.12l-3.12 3.12l-3.12 -3.12zM150.40 129.28l3.12 3.12l-3.12 3.12l-3.12 -3.12zM141.90 130.58l3.12 3.12l-3.12 3.12l-3.12 -3.12zM159.70 125.48l3.12 3.12l-3.12 3.12l-3.12 -3.12zM170.60 130.58l3.12 3.12l-3.12 3.12l-3.12 -3.12zM170.80 133.68l3.12 3.12l-3.12 3.12l-3.12 -3.12zM182.00 138.78l3.12 3.12l-3.12 3.12l-3.12 -3.12zM151.50 141.58l3.12 3.12l-3.12 3.12l-3.12 -3.12zM148.30 149.68l3.12 3.12l-3.12 3.12l-3.12 -3.12zM144.60 133.38l3.12 3.12l-3.12 3.12l-3.12 -3.12z"/>
<path stroke="#000000" d="M119.40 117.58l3.12 3.12l-3.12 3.12l-3.12 -3.12zM135.70 132.28l3.12 3.12l-3.12 3.12l-3.12 -3.12zM128.10 137.98l3.12 3.12l-3.12 3.12l-3.12 -3.12zM121.90 143.98l3.12 3.12l-3.12 3.12l-3.12 -3.12zM103.20 146.48l3.12 3.12l-3.12 3.12l-3.12 -3.12zM94.80 149.88l3.12 3.12l-3.12 3.12l-3.12 -3.12zM110.40 152.58l3.12 3.12l-3.12 3.12l-3.12 -3.12zM90.30 154.88l3.12 3.12l-3.12 3.12l-3.12 -3.12zM130.20 147.28l3.12 3.12l-3.12 3.12l-3.12 -3.12zM127.90 156.48l3.12 3.12l-3.12 3.12l-3.12 -3.12zM116.00 160.38l3.12 3.12l-3.12 3.12l-3.12 -3.12zM103.40 161.58l3.12 3.12l-3.12 3.12l-3.12 -3.12zM162.30 127.38l3.12 3.12l-3.12 3.12l-3.12 -3.12zM144.80 133.98l3.12 3.12l-3.12 3.12l-3.12 -3.12zM170.60 133.48l3.12 3.12l-3.12 3.12l-3.12 -3.12zM163.60 139.48l3.12 3.12l-3.12 3.12l-3.12 -3.12zM144.70 142.38l3.12 3.12l-3.12 3.12l-3.12 -3.12zM141.90 145.88l3.12 3.12l-3.12 3.12l-3.12 -3.12zM143.20 144.88l3.12 3.12l-3.12 3.12l-3.12 -3.12zM152.10 147.08l3.12 3.12l-3.12 3.12l-3.12 -3.12zM152.70 149.68l3.12 3.12l-3.12 3.12l-3.12 -3.12zM166.80 150.88l3.12 3.12l-3.12 3.12l-3.12 -3.12zM179.80 150.68l3.12 3.12l-3.12 3.12l-3.12 -3.12z"/>
</g>
<g clip-path="url(#c1)" fill="none" stroke-width="1.5">
<path stroke="#0000ff" d="M310.60 152.78l3.12 3.12l-3.12 3.12l-3.12 -3.12zM314.90 150.18l3.12 3.12l-3.12 3.12l-3.12 -3.12zM321.70 149.58l3.12 3.12l-3.12 3.12l-3.12 -3.12zM323.30 155.88l3.12 3.12l-3.12 3.12l-3.12 -3.12zM313.80 160.78l3.12 3.12l-3.12 3.12l-3.12 -3.12zM340.20 155.88l3.12 3.12l-3.12 3.12l-3.12 -3.12zM344.60 158.18l3.12 3.12l-3.12 3.12l-3.12 -3.12zM352.70 157.78l3.12 3.12l-3.12 3.12l-3.12 -3.12zM358.70 168.38l3.12 3.12l-3.12 3.12l-3.12 -3.12zM372.30 166.68l3.12 3.12l-3.12 3.12l-3.12 -3.12zM381.30 151.98l3.12 3.12l-3.12 3.12l-3.12 -3.12zM383.40 144.88l3.12 3.12l-3.12 3.12l-3.12 -3.12zM387.60 153.88l3.12 3.12l-3.12 3.12l-3.12 -3.12zM384.30 162.58l3.12 3.12l-3.12 3.12l-3.12 -3.12zM383.70 170.88l3.12 3.12l-3.12 3.12l-3.12 -3.12zM391.40 146.08l3.12 3.12l-3.12 3.12l-3.12 -3.12zM344.60 177.28l3.12 3.12l-3.12 3.12l-3.12 -3.12zM348.90 182.88l3.12 3.12l-3.12 3.12l-3.12 -3.12zM353.20 187.48l3.12 3.12l-3.12 3.12l-3.12 -3.12zM348.90 190.88l3.12 3.12l-3.12 3.12l-3.12 -3.12zM362.50 181.98l3.12 3.12l-3.12 3.12l-3.12 -3.12zM328.10 186.18l3.12 3.12l-3.12 3.12l-3.12 -3.12zM295.40 191.78l3.12 3.12l-3.12 3.12l-3.12 -3.12zM377.80 143.88l3.12 3.12l-3.12 3.12l-3.12 -3.12zM364.60 145.58l3.12 3.12l-3.12 3.12l-3.12 -3.12z"/>
<path stroke="#ff0000" d="M365.10 20.08l3.12 3.12l-3.12 3.12l-3.12 -3.12zM384.50 23.88l3.12 3.12l-3.12 3.12l-3.12 -3.12zM386.70 44.38l3.12 3.12l-3.12 3.12l-3.12 -3.12zM396.90 47.28l3.12 3.12l-3.12 3.12l-3.12 -3.12zM395.70 62.58l3.12 3.12l-3.12 3.12l-3.12 -3.12zM392.10 71.08l3.12 3.12l-3.12 3.12l-3.12 -3.12zM368.40 73.98l3.12 3.12l-3.12 3.12l-3.12 -3.12zM342.30 85.48l3.12 3.12l-3.12 3.12l-3.12 -3.12zM370.10 90.08l3.12 3.12l-3.12 3.12l-3.12 -3.12zM410.20 99.28l3.12 3.12l-3.12 3.12l-3.12 -3.12zM363.00 111.18l3.12 3.12l-3.12 3.12l-3.12 -3.12zM354.20 116.48l3.12 3.12l-3.12 3.12l-3.12 -3.12zM365.90 118.68l3.12 3.12l-3.12 3.12l-3.12 -3.12zM368.90 117.28l3.12 3.12l-3.12 3.12l-3.12 -3.12zM378.70 116.98l3.12 3.12l-3.12 3.12l-3.12 -3.12zM381.00 115.48l3.12 3.12l-3.12 3.12l-3.12 -3.12zM391.10 115.58l3.12 3.12l-3.12 3.12l-3.12 -3.12zM391.90 116.38l3.12 3.12l-3.12 3.12l-3.12 -3.12zM380.60 123.98l3.12 3.12l-3.12 3.12l-3.12 -3.12zM371.20 124.18l3.12 3.12l-3.12 3.12l-3.12 -3.12zM365.40 128.98l3.12 3.12l-3.12 3.12l-3.12 -3.12zM370.70 130.58l3.12 3.12l-3.12 3.12l-3.12 -3.12zM351.60 134.78l3.12 3.12l-3.12 3.12l-3.12 -3.12zM366.00 135.18l3.12 3.12l-3.12 3.12l-3.12 -3.12zM356.80 142.78l3.12 3.12l-3.12 3.12l-3.12 -3.12zM364.90 144.48l3.12 3.12l-3.12 3.12l-3.12 -3.12zM334.80 131.28l3.12 3.12l-3.12 3.12l-3.12 -3.12zM403.20 134.38l3.12 3.12l-3.12 3.12l-3.12 -3.12zM370.30 132.48l3.12 3.12l-3.12 3.12l-3.12 -3.12z"/>
<path stroke="#000000" d="M278.00 152.88l3.12 3.12l-3.12 3.12l-3.12 -3.12zM331.20 135.68l3.12 3.12l-3.12 3.12l-3.12 -3.12zM315.70 141.48l3.12 3.12l-3.12 3.12l-3.12 -3.12zM361.70 139.68l3.12 3.12l-3.12 3.12l-3.12 -3.12zM372.60 139.08l3.12 3.12l-3.12 3.12l-3.12 -3.12zM373.40 139.88l3.12 3.12l-3.12 3.12l-3.12 -3.12zM364.80 144.68l3.12 3.12l-3.12 3.12l-3.12 -3.12zM369.50 147.78l3.12 3.12l-3.12 3.12l-3.12 -3.12zM374.40 145.08l3.12 3.12l-3.12 3.12l-3.12 -3.12zM348.90 146.18l3.12 3.12l-3.12 3.12l-3.12 -3.12zM331.10 150.98l3.12 3.12l-3.12 3.12l-3.12 -3.12zM337.00 151.78l3.12 3.12l-3.12 3.12l-3.12 -3.12zM342.70 150.88l3.12 3.12l-3.12 3.12l-3.12 -3.12zM326.80 154.28l3.12 3.12l-3.12 3.12l-3.12 -3.12zM348.50 154.38l3.12 3.12l-3.12 3.12l-3.12 -3.12zM336.60 159.78l3.12 3.12l-3.12 3.12l-3.12 -3.12zM350.60 162.28l3.12 3.12l-3.12 3.12l-3.12 -3.12zM372.00 159.08l3.12 3.12l-3.12 3.12l-3.12 -3.12zM324.20 165.88l3.12 3.12l-3.12 3.12l-3.12 -3.12zM400.40 147.18l3.12 3.12l-3.12 3.12l-3.12 -3.12z"/>
</g>
<g clip-path="url(#c2)" fill="none" stroke-width="1.5">
<path stroke="#0000ff" d="M535.40 145.68l3.12 3.12l-3.12 3.12l-3.12 -3.12zM542.70 151.28l3.12 3.12l-3.12 3.12l-3.12 -3.12zM552.20 152.08l3.12 3.12l-3.12 3.12l-3.12 -3.12zM561.70 168.68l3.12 3.12l-3.12 3.12l-3.12 -3.12zM565.30 158.58l3.12 3.12l-3.12 3.12l-3.12 -3.12zM574.20 171.28l3.12 3.12l-3.12 3.12l-3.12 -3.12zM570.20 198.18l3.12 3.12l-3.12 3.12l-3.12 -3.12zM583.10 131.98l3.12 3.12l-3.12 3.12l-3.12 -3.12zM593.80 128.18l3.12 3.12l-3.12 3.12l-3.12 -3.12zM598.10 142.98l3.12 3.12l-3.12 3.12l-3.12 -3.12zM602.40 147.48l3.12 3.12l-3.12 3.12l-3.12 -3.12zM604.10 154.18l3.12 3.12l-3.12 3.12l-3.12 -3.12zM608.80 159.28l3.12 3.12l-3.12 3.12l-3.12 -3.12zM602.00 161.78l3.12 3.12l-3.12 3.12l-3.12 -3.12zM604.90 169.88l3.12 3.12l-3.12 3.12l-3.12 -3.12zM605.40 182.88l3.12 3.12l-3.12 3.12l-3.12 -3.12zM612.60 150.98l3.12 3.12l-3.12 3.12l-3.12 -3.12zM586.30 146.48l3.12 3.12l-3.12 3.12l-3.12 -3.12z"/>
<path stroke="#ff0000" d="M586.30 42.48l3.12 3.12l-3.12 3.12l-3.12 -3.12zM616.60 48.58l3.12 3.12l-3.12 3.12l-3.12 -3.12zM607.60 56.98l3.12 3.12l-3.12 3.12l-3.12 -3.12zM613.20 64.78l3.12 3.12l-3.12 3.12l-3.12 -3.12zM631.30 76.98l3.12 3.12l-3.12 3.12l-3.12 -3.12zM591.10 81.78l3.12 3.12l-3.12 3.12l-3.12 -3.12zM605.50 86.88l3.12 3.12l-3.12 3.12l-3.12 -3.12zM589.40 88.88l3.12 3.12l-3.12 3.12l-3.12 -3.12zM584.00 97.88l3.12 3.12l-3.12 3.12l-3.12 -3.12zM612.70 100.88l3.12 3.12l-3.12 3.12l-3.12 -3.12zM563.50 104.88l3.12 3.12l-3.12 3.12l-3.12 -3.12zM587.10 108.08l3.12 3.12l-3.12 3.12l-3.12 -3.12zM612.30 108.08l3.12 3.12l-3.12 3.12l-3.12 -3.12zM587.10 124.38l3.12 3.12l-3.12 3.12l-3.12 -3.12zM589.70 127.58l3.12 3.12l-3.12 3.12l-3.12 -3.12zM599.90 132.28l3.12 3.12l-3.12 3.12l-3.12 -3.12zM624.10 127.78l3.12 3.12l-3.12 3.12l-3.12 -3.12zM592.30 140.58l3.12 3.12l-3.12 3.12l-3.12 -3.12z"/>
<path stroke="#000000" d="M499.60 151.28l3.12 3.12l-3.12 3.12l-3.12 -3.12zM536.90 143.58l3.12 3.12l-3.12 3.12l-3.12 -3.12zM552.70 143.18l3.12 3.12l-3.12 3.12l-3.12 -3.12zM548.20 155.08l3.12 3.12l-3.12 3.12l-3.12 -3.12zM545.20 160.18l3.12 3.12l-3.12 3.12l-3.12 -3.12zM545.20 164.38l3.12 3.12l-3.12 3.12l-3.12 -3.12zM569.70 152.38l3.12 3.12l-3.12 3.12l-3.12 -3.12zM563.40 154.98l3.12 3.12l-3.12 3.12l-3.12 -3.12zM571.90 162.08l3.12 3.12l-3.12 3.12l-3.12 -3.12zM570.00 178.18l3.12 3.12l-3.12 3.12l-3.12 -3.12zM585.40 145.18l3.12 3.12l-3.12 3.12l-3.12 -3.12zM590.50 148.38l3.12 3.12l-3.12 3.12l-3.12 -3.12zM594.90 146.58l3.12 3.12l-3.12 3.12l-3.12 -3.12zM594.10 133.88l3.12 3.12l-3.12 3.12l-3.12 -3.12zM593.30 158.78l3.12 3.12l-3.12 3.12l-3.12 -3.12zM593.70 167.68l3.12 3.12l-3.12 3.12l-3.12 -3.12zM621.70 141.78l3.12 3.12l-3.12 3.12l-3.12 -3.12z"/>
</g>
<g clip-path="url(#c3)" fill="none" stroke-width="1.5">
<path stroke="#0000ff" d="M80.40 351.48l3.12 3.12l-3.12 3.12l-3.12 -3.12zM65.40 382.68l3.12 3.12l-3.12 3.12l-3.12 -3.12zM79.50 382.88l3.12 3.12l-3.12 3.12l-3.12 -3.12zM81.60 377.68l3.12 3.12l-3.12 3.12l-3.12 -3.12zM96.60 374.18l3.12 3.12l-3.12 3.12l-3.12 -3.12zM99.10 376.58l3.12 3.12l-3.12 3.12l-3.12 -3.12zM101.60 385.48l3.12 3.12l-3.12 3.12l-3.12 -3.12zM111.30 372.48l3.12 3.12l-3.12 3.12l-3.12 -3.12zM108.20 384.08l3.12 3.12l-3.12 3.12l-3.12 -3.12zM110.00 382.18l3.12 3.12l-3.12 3.12l-3.12 -3.12zM115.80 393.68l3.12 3.12l-3.12 3.12l-3.12 -3.12zM122.40 392.48l3.12 3.12l-3.12 3.12l-3.12 -3.12zM129.00 391.68l3.12 3.12l-3.12 3.12l-3.12 -3.12zM160.60 392.38l3.12 3.12l-3.12 3.12l-3.12 -3.12zM158.30 375.88l3.12 3.12l-3.12 3.12l-3.12 -3.12zM90.00 398.28l3.12 3.12l-3.12 3.12l-3.12 -3.12zM96.60 401.08l3.12 3.12l-3.12 3.12l-3.12 -3.12zM93.40 404.28l3.12 3.12l-3.12 3.12l-3.12 -3.12zM117.40 408.08l3.12 3.12l-3.12 3.12l-3.12 -3.12zM117.40 412.78l3.12 3.12l-3.12 3.12l-3.12 -3.12zM85.80 413.08l3.12 3.12l-3.12 3.12l-3.12 -3.12zM91.50 413.48l3.12 3.12l-3.12 3.12l-3.12 -3.12zM106.80 421.08l3.12 3.12l-3.12 3.12l-3.12 -3.12z"/>
<path stroke="#ff0000" d="M151.80 257.68l3.12 3.12l-3.12 3.12l-3.12 -3.12zM144.80 269.38l3.12 3.12l-3.12 3.12l-3.12 -3.12zM143.70 271.88l3.12 3.12l-3.12 3.12l-3.12 -3.12zM165.50 269.38l3.12 3.12l-3.12 3.12l-3.12 -3.12zM186.10 284.78l3.12 3.12l-3.12 3.12l-3.12 -3.12zM130.00 307.78l3.12 3.12l-3.12 3.12l-3.12 -3.12zM79.10 327.88l3.12 3.12l-3.12 3.12l-3.12 -3.12zM110.60 321.48l3.12 3.12l-3.12 3.12l-3.12 -3.12zM115.70 296.68l3.12 3.12l-3.12 3.12l-3.12 -3.12zM117.90 300.18l3.12 3.12l-3.12 3.12l-3.12 -3.12zM116.00 334.38l3.12 3.12l-3.12 3.12l-3.12 -3.12zM116.60 342.18l3.12 3.12l-3.12 3.12l-3.12 -3.12zM114.00 349.88l3.12 3.12l-3.12 3.12l-3.12 -3.12zM97.90 353.88l3.12 3.12l-3.12 3.12l-3.12 -3.12zM128.40 343.08l3.12 3.12l-3.12 3.12l-3.12 -3.12zM136.80 348.08l3.12 3.12l-3.12 3.12l-3.12 -3.12zM152.30 333.68l3.12 3.12l-3.12 3.12l-3.12 -3.12zM148.10 343.48l3.12 3.12l-3.12 3.12l-3.12 -3.12zM153.30 345.38l3.12 3.12l-3.12 3.12l-3.12 -3.12zM153.30 350.08l3.12 3.12l-3.12 3.12l-3.12 -3.12zM118.90 352.78l3.12 3.12l-3.12 3.12l-3.12 -3.12zM110.20 356.58l3.12 3.12l-3.12 3.12l-3.12 -3.12zM132.90 363.68l3.12 3.12l-3.12 3.12l-3.12 -3.12zM122.30 371.88l3.12 3.12l-3.12 3.12l-3.12 -3.12zM174.80 334.98l3.12 3.12l-3.12 3.12l-3.12 -3.12zM173.90 359.88l3.12 3.12l-3.12 3.12l-3.12 -3.12z"/>
<path stroke="#000000" d="M104.60 333.48l3.12 3.12l-3.12 3.12l-3.12 -3.12zM104.40 352.68l3.12 3.12l-3.12 3.12l-3.12 -3.12zM108.80 354.08l3.12 3.12l-3.12 3.12l-3.12 -3.12zM121.10 345.78l3.12 3.12l-3.12 3.12l-3.12 -3.12zM144.60 351.48l3.12 3.12l-3.12 3.12l-3.12 -3.12zM120.40 358.58l3.12 3.12l-3.12 3.12l-3.12 -3.12zM126.80 360.48l3.12 3.12l-3.12 3.12l-3.12 -3.12zM114.80 363.88l3.12 3.12l-3.12 3.12l-3.12 -3.12zM129.30 366.18l3.12 3.12l-3.12 3.12l-3.12 -3.12zM128.00 368.68l3.12 3.12l-3.12 3.12l-3.12 -3.12zM116.60 370.28l3.12 3.12l-3.12 3.12l-3.12 -3.12zM119.70 374.48l3.12 3.12l-3.12 3.12l-3.12 -3.12zM102.80 369.78l3.12 3.12l-3.12 3.12l-3.12 -3.12zM146.20 374.38l3.12 3.12l-3.12 3.12l-3.12 -3.12zM116.80 381.78l3.12 3.12l-3.12 3.12l-3.12 -3.12zM197.10 364.48l3.12 3.12l-3.12 3.12l-3.12 -3.12zM84.70 369.28l3.12 3.12l-3.12 3.12l-3.12 -3.12zM89.60 370.68l3.12 3.12l-3.12 3.12l-3.12 -3.12zM78.60 373.08l3.12 3.12l-3.12 3.12l-3.12 -3.12zM80.50 376.08l3.12 3.12l-3.12 3.12l-3.12 -3.12zM77.40 379.58l3.12 3.12l-3.12 3.12l-3.12 -3.12zM96.30 373.48l3.12 3.12l-3.12 3.12l-3.12 -3.12zM87.90 388.28l3.12 3.12l-3.12 3.12l-3.12 -3.12zM95.20 386.58l3.12 3.12l-3.12 3.12l-3.12 -3.12z"/>
</g>
<g clip-path="url(#c4)" fill="none" stroke-width="1.5">
<path stroke="#0000ff" d="M341.80 367.68l3.12 3.12l-3.12 3.12l-3.12 -3.12zM319.10 366.58l3.12 3.12l-3.12 3.12l-3.12 -3.12zM325.80 368.08l3.12 3.12l-3.12 3.12l-3.12 -3.12zM328.80 368.78l3.12 3.12l-3.12 3.12l-3.12 -3.12zM330.20 373.78l3.12 3.12l-3.12 3.12l-3.12 -3.12zM340.50 378.08l3.12 3.12l-3.12 3.12l-3.12 -3.12zM379.10 375.98l3.12 3.12l-3.12 3.12l-3.12 -3.12zM286.40 374.18l3.12 3.12l-3.12 3.12l-3.12 -3.12zM297.50 375.88l3.12 3.12l-3.12 3.12l-3.12 -3.12zM306.00 380.58l3.12 3.12l-3.12 3.12l-3.12 -3.12zM324.30 379.88l3.12 3.12l-3.12 3.12l-3.12 -3.12zM330.20 382.58l3.12 3.12l-3.12 3.12l-3.12 -3.12zM332.50 383.28l3.12 3.12l-3.12 3.12l-3.12 -3.12zM322.10 387.08l3.12 3.12l-3.12 3.12l-3.12 -3.12zM317.20 394.38l3.12 3.12l-3.12 3.12l-3.12 -3.12zM336.50 392.38l3.12 3.12l-3.12 3.12l-3.12 -3.12zM347.30 388.88l3.12 3.12l-3.12 3.12l-3.12 -3.12zM349.60 399.68l3.12 3.12l-3.12 3.12l-3.12 -3.12zM314.10 407.48l3.12 3.12l-3.12 3.12l-3.12 -3.12zM327.30 413.98l3.12 3.12l-3.12 3.12l-3.12 -3.12zM343.10 413.18l3.12 3.12l-3.12 3.12l-3.12 -3.12zM338.70 418.58l3.12 3.12l-3.12 3.12l-3.12 -3.12zM338.70 423.28l3.12 3.12l-3.12 3.12l-3.12 -3.12zM306.60 419.48l3.12 3.12l-3.12 3.12l-3.12 -3.12zM311.50 425.08l3.12 3.12l-3.12 3.12l-3.12 -3.12zM381.60 395.78l3.12 3.12l-3.12 3.12l-3.12 -3.12z"/>
<path stroke="#ff0000" d="M299.90 294.48l3.12 3.12l-3.12 3.12l-3.12 -3.12zM350.30 299.98l3.12 3.12l-3.12 3.12l-3.12 -3.12zM364.10 276.18l3.12 3.12l-3.12 3.12l-3.12 -3.12zM365.70 280.38l3.12 3.12l-3.12 3.12l-3.12 -3.12zM406.90 266.18l3.12 3.12l-3.12 3.12l-3.12 -3.12zM395.50 311.38l3.12 3.12l-3.12 3.12l-3.12 -3.12zM374.10 325.98l3.12 3.12l-3.12 3.12l-3.12 -3.12zM374.30 331.18l3.12 3.12l-3.12 3.12l-3.12 -3.12zM373.40 333.18l3.12 3.12l-3.12 3.12l-3.12 -3.12zM333.40 332.08l3.12 3.12l-3.12 3.12l-3.12 -3.12zM335.20 331.48l3.12 3.12l-3.12 3.12l-3.12 -3.12zM336.60 331.28l3.12 3.12l-3.12 3.12l-3.12 -3.12zM335.50 333.48l3.12 3.12l-3.12 3.12l-3.12 -3.12zM339.80 335.48l3.12 3.12l-3.12 3.12l-3.12 -3.12zM357.10 341.68l3.12 3.12l-3.12 3.12l-3.12 -3.12zM368.60 340.58l3.12 3.12l-3.12 3.12l-3.12 -3.12zM337.70 347.98l3.12 3.12l-3.12 3.12l-3.12 -3.12zM338.40 349.28l3.12 3.12l-3.12 3.12l-3.12 -3.12zM329.50 351.18l3.12 3.12l-3.12 3.12l-3.12 -3.12zM348.80 355.68l3.12 3.12l-3.12 3.12l-3.12 -3.12zM331.00 362.68l3.12 3.12l-3.12 3.12l-3.12 -3.12zM365.50 364.58l3.12 3.12l-3.12 3.12l-3.12 -3.12zM394.40 354.38l3.12 3.12l-3.12 3.12l-3.12 -3.12zM418.00 355.38l3.12 3.12l-3.12 3.12l-3.12 -3.12z"/>
<path stroke="#000000" d="M337.70 361.28l3.12 3.12l-3.12 3.12l-3.12 -3.12zM349.20 361.48l3.12 3.12l-3.12 3.12l-3.12 -3.12zM335.60 366.78l3.12 3.12l-3.12 3.12l-3.12 -3.12zM341.20 368.88l3.12 3.12l-3.12 3.12l-3.12 -3.12zM342.60 370.48l3.12 3.12l-3.12 3.12l-3.12 -3.12zM367.00 370.28l3.12 3.12l-3.12 3.12l-3.12 -3.12zM374.00 366.68l3.12 3.12l-3.12 3.12l-3.12 -3.12zM350.40 375.08l3.12 3.12l-3.12 3.12l-3.12 -3.12zM337.50 378.78l3.12 3.12l-3.12 3.12l-3.12 -3.12zM318.50 355.48l3.12 3.12l-3.12 3.12l-3.12 -3.12zM317.10 360.38l3.12 3.12l-3.12 3.12l-3.12 -3.12zM300.00 363.38l3.12 3.12l-3.12 3.12l-3.12 -3.12zM300.00 374.78l3.12 3.12l-3.12 3.12l-3.12 -3.12zM300.70 376.68l3.12 3.12l-3.12 3.12l-3.12 -3.12zM301.90 378.68l3.12 3.12l-3.12 3.12l-3.12 -3.12zM317.50 375.98l3.12 3.12l-3.12 3.12l-3.12 -3.12zM316.00 385.18l3.12 3.12l-3.12 3.12l-3.12 -3.12zM312.80 386.88l3.12 3.12l-3.12 3.12l-3.12 -3.12zM310.50 388.88l3.12 3.12l-3.12 3.12l-3.12 -3.12zM308.50 393.38l3.12 3.12l-3.12 3.12l-3.12 -3.12zM352.90 384.88l3.12 3.12l-3.12 3.12l-3.12 -3.12z"/>
</g>
<g clip-path="url(#c5)" fill="none" stroke-width="1.5">
<path stroke="#0000ff" d="M521.70 368.18l3.12 3.12l-3.12 3.12l-3.12 -3.12zM521.00 376.68l3.12 3.12l-3.12 3.12l-3.12 -3.12zM527.80 400.28l3.12 3.12l-3.12 3.12l-3.12 -3.12zM550.30 368.58l3.12 3.12l-3.12 3.12l-3.12 -3.12zM545.90 374.88l3.12 3.12l-3.12 3.12l-3.12 -3.12zM551.80 375.38l3.12 3.12l-3.12 3.12l-3.12 -3.12zM550.60 383.78l3.12 3.12l-3.12 3.12l-3.12 -3.12zM546.70 396.88l3.12 3.12l-3.12 3.12l-3.12 -3.12zM558.80 347.88l3.12 3.12l-3.12 3.12l-3.12 -3.12zM570.20 351.68l3.12 3.12l-3.12 3.12l-3.12 -3.12zM600.40 370.88l3.12 3.12l-3.12 3.12l-3.12 -3.12zM563.20 378.38l3.12 3.12l-3.12 3.12l-3.12 -3.12zM561.80 385.28l3.12 3.12l-3.12 3.12l-3.12 -3.12zM570.60 398.28l3.12 3.12l-3.12 3.12l-3.12 -3.12zM568.30 414.08l3.12 3.12l-3.12 3.12l-3.12 -3.12zM559.40 432.98l3.12 3.12l-3.12 3.12l-3.12 -3.12zM556.60 388.38l3.12 3.12l-3.12 3.12l-3.12 -3.12z"/>
<path stroke="#ff0000" d="M593.30 258.88l3.12 3.12l-3.12 3.12l-3.12 -3.12zM585.60 268.68l3.12 3.12l-3.12 3.12l-3.12 -3.12zM616.60 283.58l3.12 3.12l-3.12 3.12l-3.12 -3.12zM571.70 290.08l3.12 3.12l-3.12 3.12l-3.12 -3.12zM586.90 298.68l3.12 3.12l-3.12 3.12l-3.12 -3.12zM610.00 296.18l3.12 3.12l-3.12 3.12l-3.12 -3.12zM595.00 309.78l3.12 3.12l-3.12 3.12l-3.12 -3.12zM554.50 313.38l3.12 3.12l-3.12 3.12l-3.12 -3.12zM560.20 321.98l3.12 3.12l-3.12 3.12l-3.12 -3.12zM595.00 321.18l3.12 3.12l-3.12 3.12l-3.12 -3.12zM521.00 318.38l3.12 3.12l-3.12 3.12l-3.12 -3.12zM557.70 345.38l3.12 3.12l-3.12 3.12l-3.12 -3.12zM594.00 351.68l3.12 3.12l-3.12 3.12l-3.12 -3.12zM578.40 362.28l3.12 3.12l-3.12 3.12l-3.12 -3.12zM615.50 346.18l3.12 3.12l-3.12 3.12l-3.12 -3.12zM639.10 342.38l3.12 3.12l-3.12 3.12l-3.12 -3.12zM628.00 248.18l3.12 3.12l-3.12 3.12l-3.12 -3.12z"/>
<path stroke="#000000" d="M538.00 354.18l3.12 3.12l-3.12 3.12l-3.12 -3.12zM521.00 365.68l3.12 3.12l-3.12 3.12l-3.12 -3.12zM540.10 365.28l3.12 3.12l-3.12 3.12l-3.12 -3.12zM522.30 375.48l3.12 3.12l-3.12 3.12l-3.12 -3.12zM522.30 380.18l3.12 3.12l-3.12 3.12l-3.12 -3.12zM529.90 386.28l3.12 3.12l-3.12 3.12l-3.12 -3.12zM531.20 388.78l3.12 3.12l-3.12 3.12l-3.12 -3.12zM538.20 395.88l3.12 3.12l-3.12 3.12l-3.12 -3.12zM548.40 407.98l3.12 3.12l-3.12 3.12l-3.12 -3.12zM556.70 367.78l3.12 3.12l-3.12 3.12l-3.12 -3.12zM563.50 371.18l3.12 3.12l-3.12 3.12l-3.12 -3.12zM558.40 376.98l3.12 3.12l-3.12 3.12l-3.12 -3.12zM571.80 379.38l3.12 3.12l-3.12 3.12l-3.12 -3.12zM574.60 384.38l3.12 3.12l-3.12 3.12l-3.12 -3.12zM557.80 390.88l3.12 3.12l-3.12 3.12l-3.12 -3.12zM588.30 363.58l3.12 3.12l-3.12 3.12l-3.12 -3.12zM595.30 369.58l3.12 3.12l-3.12 3.12l-3.12 -3.12z"/>
</g>
</svg>
</body></html>
